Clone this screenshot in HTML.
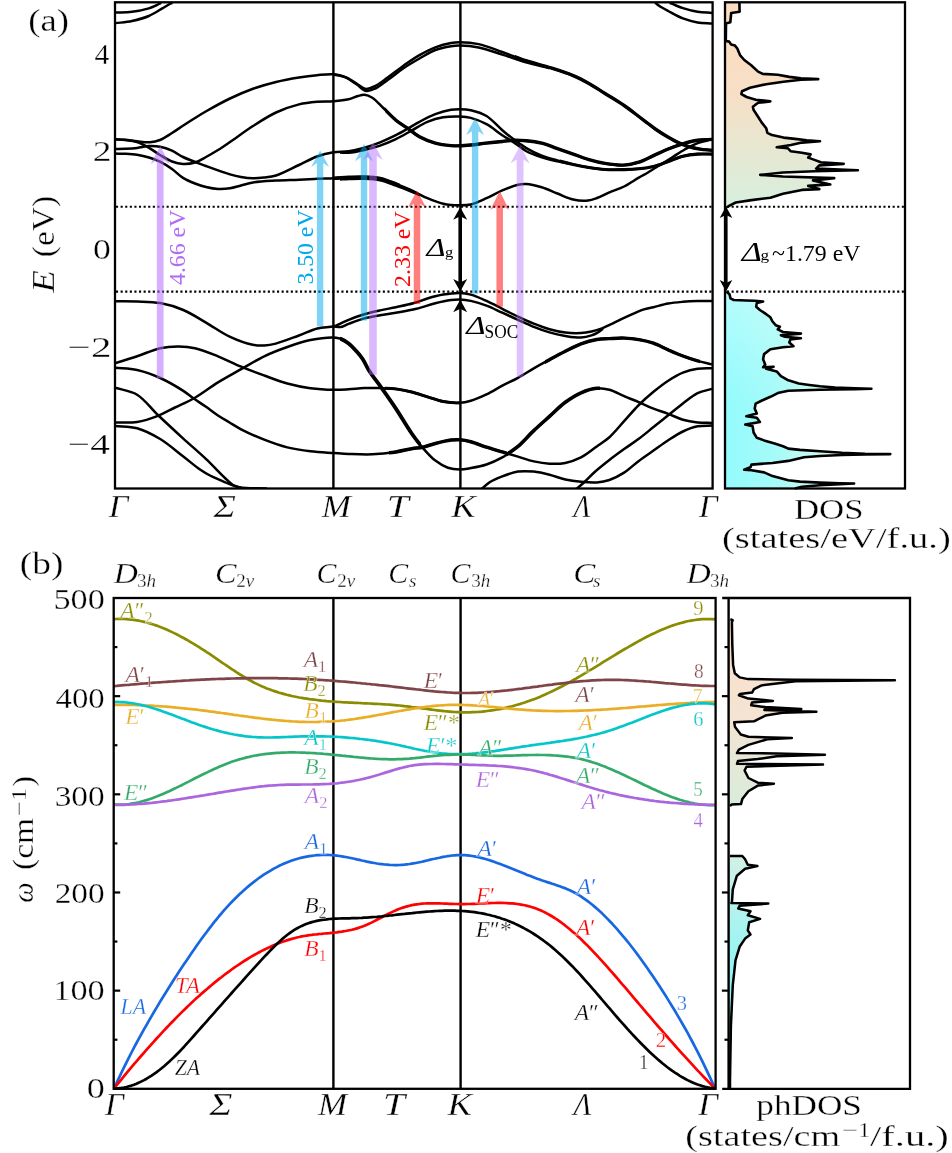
<!DOCTYPE html><html><head><meta charset="utf-8"><style>html,body{margin:0;padding:0;background:#fff;overflow:hidden}svg{display:block;will-change:transform}text{font-family:"Liberation Serif",serif;stroke:#fff;stroke-width:0.35px;stroke-opacity:0.9}.tn text{stroke:none}</style></head><body>
<svg width="952" height="1153" viewBox="0 0 952 1153" font-family="Liberation Serif">
<defs>
<linearGradient id="gc" x1="0" y1="0" x2="0" y2="1" gradientUnits="objectBoundingBox"><stop offset="0" stop-color="#fddcbf"/><stop offset="0.45" stop-color="#f7dfc6"/><stop offset="1" stop-color="#d6f0de"/></linearGradient>
<linearGradient id="gvh" x1="726" y1="0" x2="840" y2="0" gradientUnits="userSpaceOnUse"><stop offset="0" stop-color="#94fbfd"/><stop offset="0.45" stop-color="#a6fbf8"/><stop offset="1" stop-color="#e2f8ec"/></linearGradient>
<linearGradient id="gvv" x1="0" y1="292" x2="0" y2="400" gradientUnits="userSpaceOnUse"><stop offset="0" stop-color="#fff" stop-opacity="0.3"/><stop offset="1" stop-color="#fff" stop-opacity="0"/></linearGradient>
<linearGradient id="gpu" x1="0" y1="640" x2="0" y2="806" gradientUnits="userSpaceOnUse"><stop offset="0" stop-color="#fbe0cc"/><stop offset="0.5" stop-color="#f3e4d2"/><stop offset="1" stop-color="#d8ecdc"/></linearGradient>
<linearGradient id="gpl" x1="0" y1="856" x2="0" y2="1000" gradientUnits="userSpaceOnUse"><stop offset="0" stop-color="#d2f0e6"/><stop offset="0.6" stop-color="#a0f4f2"/><stop offset="1" stop-color="#88f6f8"/></linearGradient>
<clipPath id="cpa"><rect x="115" y="2.3" width="597.5" height="486.2"/></clipPath>
</defs>
<rect width="952" height="1153" fill="#fff"/>
<line x1="116" y1="206.8" x2="712.6" y2="206.8" stroke="#000" stroke-width="2.1" stroke-dasharray="2.1 2.5"/>
<line x1="727" y1="206.8" x2="904" y2="206.8" stroke="#000" stroke-width="2.1" stroke-dasharray="2.1 2.5"/>
<line x1="116" y1="291.6" x2="712.6" y2="291.6" stroke="#000" stroke-width="2.1" stroke-dasharray="2.1 2.5"/>
<line x1="727" y1="291.6" x2="904" y2="291.6" stroke="#000" stroke-width="2.1" stroke-dasharray="2.1 2.5"/>
<g clip-path="url(#cpa)" fill="none" stroke="#000" stroke-width="2" stroke-linejoin="round">
<path d="M115 12.6 C120.67 12.33 126.38 12.5 132 11.8 C137.64 11.1 144.42 9.71 148.8 8.4 C151.75 7.52 153.84 6.51 156 5.5 C157.85 4.63 159.33 3.7 161 2.8" stroke-width="2.5"/>
<path d="M115 23.3 C120.67 22.53 126.4 22.21 132 21 C137.66 19.78 143.62 18.2 148.8 16 C153.67 13.93 158.77 10.45 162.3 8.4 C164.61 7.06 166.21 5.98 168 5 C169.54 4.15 170.93 3.53 172.4 2.8" stroke-width="2.5"/>
<path d="M669.7 2.8 C671.8 3.7 673.84 4.63 676 5.5 C678.24 6.4 680.14 7.24 682.9 8.1 C686.86 9.34 692.69 11 697.6 11.8 C702.39 12.58 707.2 12.53 712 12.9" stroke-width="2.5"/>
<path d="M655 2.8 C657 4.2 658.87 5.67 661 7 C663.26 8.41 665.36 9.5 668.2 11 C672.22 13.13 677.9 16.48 682.9 18.4 C687.71 20.24 692.68 21.55 697.6 22.4 C702.39 23.23 707.2 23.13 712 23.5" stroke-width="2.5"/>
<path d="M115 139.3 C118.33 139.47 121.52 139.5 125 139.8 C128.82 140.13 132.91 140.89 137 141.3 C141.24 141.73 145.97 142.6 150 142.3 C153.57 142.03 156.62 141.34 160 140 C163.93 138.44 168.09 135.43 172 133 C175.86 130.6 179.49 127.98 183.3 125.5 C187.16 122.98 191.09 120.43 195 118 C198.86 115.6 202.02 113.6 206.6 111 C213.01 107.36 222.15 102.24 230 98.5 C237.62 94.87 245.26 91.57 253 88.8 C260.59 86.09 268.29 83.89 276 82 C283.62 80.13 291.78 78.67 299 77.5 C305.35 76.47 311.12 75.74 317 75.2 C322.61 74.69 328.47 73.84 333.5 74.3 C337.85 74.7 341.69 75.68 345.5 77.2 C349.36 78.74 352.97 81.47 356.5 83.5 C359.78 85.39 362.77 88.67 366 89 C369.07 89.32 372.16 87.51 375.4 85.9 C379.43 83.9 383.59 80.37 388 77.2 C393 73.61 398.48 69.12 403.8 65.4 C408.99 61.77 414.16 58.15 419.5 55.1 C424.67 52.14 429.94 49.35 435.3 47.3 C440.45 45.33 446.46 43.71 451 42.9 C454.38 42.3 456.46 42.16 460 42.2 C465.09 42.26 472.11 42.7 478.6 44.1 C486.11 45.71 494.43 49.24 502.3 52 C510.2 54.77 517.99 58.1 525.9 60.7 C533.72 63.26 541.66 65.03 549.5 67.5 C557.42 69.99 566.2 72.66 573.2 75.6 C579.06 78.06 583.7 80.58 588.9 83.5 C594.3 86.53 599.41 90.01 605 93.5 C611.1 97.31 618.23 101.47 624.1 105.5 C629.4 109.14 634.48 113.24 638.8 116.5 C642.23 119.09 645.04 121.26 648 123.5 C650.76 125.58 653.02 127.45 656 129.5 C659.53 131.93 664.03 134.74 667.9 137 C671.45 139.07 674.85 141.02 678.3 142.6 C681.52 144.08 684.48 145.25 687.9 146.3 C691.64 147.45 695.87 148.45 699.9 149.1 C703.9 149.75 707.97 149.83 712 150.2" stroke-width="2.5"/>
<path d="M334 74.5 C337.83 75.47 341.83 75.83 345.5 77.4 C349.34 79.04 353 81.97 356.5 84.3 C359.81 86.51 362.7 90.41 366 91 C369.02 91.54 372.17 89.99 375.4 88.5 C379.45 86.63 383.59 82.97 388 79.8 C393 76.21 398.45 71.6 403.8 68 C408.96 64.53 414.22 61.52 419.5 58.5 C424.72 55.52 429.91 52.06 435.3 50 C440.42 48.04 446.46 46.89 451 46.2 C454.39 45.68 456.46 45.54 460 45.6 C465.09 45.69 472.09 46.2 478.6 47.5 C486.09 48.99 494.43 52.12 502.3 54.6 C510.19 57.09 517.99 60.12 525.9 62.4 C533.72 64.65 541.63 66.27 549.5 68.2" stroke-width="2.5"/>
<path d="M115 139.3 C118.33 139.53 121.53 139.59 125 140 C128.83 140.45 133.09 140.76 137 142 C141.1 143.3 145.15 145.62 149 147.8 C152.82 149.96 156.2 152.74 160 155 C163.87 157.31 167.98 159.99 172 161.5 C175.65 162.87 179.24 163.81 183 164 C186.9 164.19 191.18 163.66 195 162.5 C198.85 161.33 202.29 159.01 206 157 C209.95 154.86 214.04 152.47 218 150 C222.04 147.48 225.37 145.15 230 142 C236.45 137.61 245.24 130.97 253 126 C260.57 121.15 268.15 116.14 276 112.5 C283.5 109.02 291.72 106.19 299 104.4 C305.29 102.85 311.12 102.31 317 101.8 C322.61 101.31 328.13 101.74 333.5 101.3 C338.66 100.88 344.21 100.35 348.6 99.3 C352.15 98.45 355.14 96.77 358 96 C360.31 95.38 362.18 94.61 364.4 94.8 C366.92 95.01 369.62 96.05 372.3 97.7 C375.88 99.91 379.52 104.4 383.3 108 C387.37 111.88 391.55 116.63 395.9 120.2 C399.97 123.53 404.46 126.05 408.5 128.9 C412.3 131.58 415.35 134.52 419.5 136.8 C424.16 139.35 429.96 141.63 435.3 143.1 C440.46 144.52 446.48 145.19 451 145.6 C454.4 145.91 456.87 145.88 460 145.8 C463.44 145.71 466.87 145.38 470.8 145 C475.55 144.54 481.26 143.68 486.5 143.1 C491.76 142.52 497.51 142.03 502.3 141.5 C506.3 141.06 509.5 140.35 513.3 140.2 C517.35 140.04 521.48 140.28 525.9 140.7 C530.88 141.18 536.5 141.81 541.7 143.1 C547 144.42 552.16 146.77 557.4 148.6 C562.66 150.44 567.94 152.26 573.2 154.1 C578.44 155.93 583.59 158.05 588.9 159.6 C594.19 161.15 599.37 162.49 605 163.4 C611.06 164.38 618.17 165.41 624.1 165.1 C629.34 164.82 633.99 163.73 638.8 162.2 C643.79 160.61 648.6 157.8 653.5 155.6 C658.4 153.4 663.26 150.98 668.2 149 C673.06 147.05 677.96 145.26 682.9 143.8 C687.76 142.37 692.69 141.03 697.6 140.3 C702.39 139.58 707.2 139.7 712 139.4" stroke-width="2.5"/>
<path d="M115 149 C118.33 148.93 121.52 148.95 125 148.8 C128.82 148.63 133.01 148.46 137 148 C141.01 147.53 145.08 146.2 149 146 C152.74 145.81 156.3 145.99 160 146.7 C163.96 147.46 168.17 148.89 172 150.6 C175.84 152.32 178.57 154.86 183 157 C189.18 159.98 198.23 163.12 206 166 C213.89 168.92 223.5 172.5 230 174.4 C234.33 175.67 237.23 176.35 241 177 C244.89 177.67 249.08 178.23 253 178.3 C256.74 178.37 260.26 177.95 264 177.5 C267.92 177.03 271.46 176.89 276 175.5 C282.54 173.5 291.81 168.34 299 165 C305.38 162.04 311.03 158.65 317 156.5 C322.52 154.51 328.08 153.16 333.5 152.3 C338.61 151.49 343.54 152.02 348.6 151.3 C353.84 150.55 359.19 149.29 364.4 147.8 C369.69 146.29 374.9 144.37 380.1 142.3 C385.4 140.18 390.98 137.67 395.9 135.2 C400.39 132.95 404.45 130.5 408.5 128.2 C412.3 126.04 415.46 123.94 419.5 121.8 C424.25 119.28 429.95 116.22 435.3 114.2 C440.46 112.25 446.45 110.58 451 109.8 C454.38 109.22 456.87 109.16 460 109.2 C463.44 109.24 466.93 109.32 470.8 110.2 C475.61 111.29 481.53 113 486.5 116 C492.1 119.38 497.46 126.07 502.3 130.2 C506.25 133.57 509.45 136.22 513.3 139.1 C517.3 142.09 521.36 145.12 525.9 147.8 C530.78 150.68 536.35 153.58 541.7 155.7 C546.85 157.74 552.14 158.95 557.4 160.4 C562.64 161.85 567.93 163.21 573.2 164.4 C578.43 165.58 583.62 166.65 588.9 167.5 C594.22 168.35 599.39 169.14 605 169.5 C611.08 169.89 618.15 169.75 624.1 169.6 C629.32 169.47 633.91 169.3 638.8 168.8 C643.71 168.3 648.65 167.79 653.5 166.6 C658.46 165.38 663.3 163.22 668.2 161.5 C673.1 159.78 677.94 157.54 682.9 156.3 C687.74 155.09 692.71 154.46 697.6 154.1 C702.41 153.74 707.2 154.1 712 154.1" stroke-width="2.5"/>
<path d="M340 152.6 C342.87 152.67 345.32 153.05 348.6 152.8 C353.09 152.46 359.17 151.19 364.4 150 C369.67 148.8 374.91 147.39 380.1 145.6 C385.41 143.77 390.7 141.58 395.9 139.1 C401.24 136.56 406.45 133.38 411.7 130.5 C416.95 127.62 422.03 124.02 427.4 121.8 C432.54 119.68 437.8 118.19 443.2 117.3 C448.66 116.4 455.02 116.3 460 116.5 C464 116.66 466.93 116.89 470.8 117.9 C475.62 119.16 481.41 121.45 486.5 124.2 C491.93 127.13 497.29 131.89 502.3 135.2 C506.7 138.11 510.88 140.4 514.9 143.1 C518.73 145.67 521.75 148.72 525.9 151 C530.56 153.55 536.39 155.55 541.7 157.3 C546.89 159 552.44 160.24 557.4 161.4 C561.82 162.43 565.8 163.13 570 164" stroke-width="2.5"/>
<path d="M115 153.6 C118.33 153.67 121.52 153.62 125 153.8 C128.82 154 133.02 154.19 137 154.8 C141.02 155.42 145.13 156.33 149 157.5 C152.79 158.64 156.34 159.9 160 161.7 C164 163.66 168.17 166.31 172 169 C175.84 171.7 179.1 175.46 183 177.9 C186.78 180.26 191.04 181.95 195 183.5 C198.7 184.94 202.22 186.09 206 187 C209.88 187.94 213.99 188.79 218 189 C221.99 189.21 226.11 188.9 230 188.3 C233.78 187.71 237.25 186.45 241 185.5 C244.91 184.51 248.32 183.27 253 182.5 C259.39 181.44 268.33 181.07 276 180.6 C283.66 180.13 291.8 180.02 299 179.7 C305.37 179.42 311.13 179.04 317 178.8 C322.62 178.57 328.12 178.54 333.5 178.3 C338.65 178.07 343.51 177.62 348.6 177.4 C353.81 177.18 359.15 176.82 364.4 177 C369.65 177.18 374.93 177.37 380.1 178.5 C385.43 179.66 390.66 182.03 395.9 184 C401.19 185.99 406.49 188.05 411.7 190.4 C416.99 192.78 422.09 195.97 427.4 198.2 C432.59 200.38 437.78 202.52 443.2 203.7 C448.64 204.89 455.01 205.25 460 205.3 C463.99 205.34 466.94 205.39 470.8 204.5 C475.63 203.38 481.3 200.52 486.5 198.2 C491.8 195.83 496.98 192.65 502.3 190.4 C507.48 188.21 513.61 185.79 518 184.8 C521.03 184.12 522.83 183.85 525.9 184 C530.28 184.22 536.51 185.65 541.7 187.2 C547.02 188.79 552.15 191.45 557.4 193.5 C562.65 195.55 567.93 198.35 573.2 199.5 C578.13 200.58 583.71 200.94 588 200.5 C591.4 200.15 593.81 199.16 597 198 C600.85 196.6 605.07 194.25 609.4 192.4 C614.07 190.41 619.3 188.9 624.1 186.5 C629.1 184 634.45 180.12 638.8 177.6 C642.2 175.63 644.76 174.41 648 172.5 C651.76 170.28 656 167.5 660 165 C664 162.5 667.95 160.04 672 157.5 C676.18 154.88 680.55 151.86 684.7 149.5 C688.5 147.34 691.74 145.41 695.9 143.8 C700.7 141.95 706.63 140.87 712 139.4" stroke-width="2.5"/>
<path d="M340 179.5 C342.87 179.33 345.3 179.13 348.6 179 C353.07 178.83 359.15 178.5 364.4 178.7 C369.65 178.9 374.92 179.08 380.1 180.2 C385.43 181.35 390.65 183.68 395.9 185.6 C401.19 187.54 407.28 190 411.7 191.8 C414.92 193.11 417.23 194.13 420 195.3" stroke-width="2.5"/>
<path d="M115 301.3 C122.37 301.37 129.66 301.21 137.1 301.5 C144.72 301.8 152.58 301.71 160.2 303.1 C167.98 304.51 175.77 306.83 183.3 310 C191.18 313.32 198.73 318.39 206.4 322.8 C214.16 327.26 221.69 332.9 229.6 336.6 C237.14 340.12 246.25 343.4 252.7 344.7 C257.12 345.59 260.37 345.58 264.2 345.4 C268.07 345.22 271.33 344.72 275.8 343.6 C282.25 341.98 291.64 338.15 298.9 335.5 C305.42 333.12 311.31 330.03 317.4 328.5 C323 327.09 329.75 327.49 334 326.3 C336.83 325.5 338.46 324.34 340.8 323.3 C343.31 322.18 345.51 321.03 348.6 319.8 C352.92 318.08 359.11 315.88 364.4 314.3 C369.61 312.75 374.85 311.58 380.1 310.4 C385.35 309.22 390.52 308.35 395.9 307.2 C401.54 305.99 407.76 304.83 413.2 303.3 C418.21 301.89 422.51 299.93 427.4 298.5 C432.5 297.01 437.82 295.52 443.2 294.6 C448.68 293.67 455.02 292.87 460 293 C464 293.1 466.93 293.55 470.8 294.6 C475.62 295.9 481.31 298.56 486.5 300.9 C491.81 303.29 497.04 306.16 502.3 308.8 C507.54 311.43 512.73 314.21 518 316.7 C523.23 319.17 528.5 321.58 533.8 323.7 C539 325.78 544.21 327.81 549.5 329.3 C554.71 330.77 560.01 331.97 565.3 332.6 C570.51 333.22 576.3 333.38 581 333.1 C584.86 332.87 588.03 332.29 591.5 331.5 C595.03 330.7 598.54 329.6 602 328.3 C605.54 326.97 609.02 325.24 612.5 323.6 C616.02 321.94 619.49 320.07 623 318.4 C626.49 316.74 629.98 315.11 633.5 313.6 C636.98 312.11 640.55 310.48 644 309.4 C647.21 308.39 649.99 308.05 653.5 307.2 C657.87 306.14 663.27 304.4 668.2 303.5 C673.07 302.61 677.99 302.22 682.9 301.8 C687.79 301.38 692.72 301.15 697.6 301 C702.42 300.85 707.2 300.93 712 300.9" stroke-width="2.5"/>
<path d="M334 326.6 C336.27 326.73 338.5 327.37 340.8 327 C343.36 326.59 345.53 325.04 348.6 323.9 C352.93 322.29 359.09 319.86 364.4 318.4 C369.59 316.97 374.85 316.15 380.1 315.2 C385.35 314.25 390.3 313.68 395.9 312.7 C402.3 311.59 409.74 310.4 416.4 308.8 C422.87 307.25 429.26 304.79 435.3 303.3 C440.75 301.95 446.47 300.71 451 300.1 C454.4 299.64 456.87 299.4 460 299.5 C463.44 299.61 466.9 300.07 470.8 300.9 C475.58 301.92 481.32 303.67 486.5 305.6 C491.82 307.58 497.04 310.33 502.3 312.7 C507.54 315.06 512.76 317.44 518 319.8 C523.26 322.17 528.5 324.78 533.8 326.9 C539 328.97 544.21 330.89 549.5 332.4 C554.71 333.89 560.02 335.03 565.3 335.9 C570.52 336.76 576.31 337.83 581 337.6 C584.87 337.41 588.47 336.42 591.5 335.4 C593.98 334.56 596.02 333.46 598 332.3 C599.82 331.24 601.33 329.97 603 328.8" stroke-width="2.5"/>
<path d="M115 363.2 C122.37 360.9 129.67 358.76 137.1 356.3 C144.74 353.77 152.83 349.78 160.2 348.2 C166.62 346.82 172.74 346.56 178.7 346.6 C184.28 346.63 189.11 346.92 194.9 348.2 C202.01 349.77 210.36 353.25 218 356.3 C225.77 359.4 233.35 363.48 241.1 366.7 C248.75 369.88 256.48 372.69 264.2 375.5 C271.88 378.29 279.53 381.37 287.3 383.5 C294.93 385.59 302.62 387.15 310.4 388.2 C318.19 389.25 327.07 389.68 334 389.8 C339.45 389.89 343.64 389.57 348.6 389.3 C353.77 389.02 359.01 388.3 364.4 388.1 C370.03 387.89 376.22 387.95 381.7 388.1 C386.67 388.24 391.06 388.29 395.9 388.9 C401.05 389.55 406.48 390.69 411.7 392 C416.98 393.32 422.16 395.22 427.4 396.8 C432.66 398.38 437.8 400.5 443.2 401.5 C448.66 402.51 455.03 403.09 460 402.8 C464.01 402.57 466.92 401.84 470.8 400.7 C475.61 399.28 481.33 396.85 486.5 394.4 C491.84 391.87 497.02 388.48 502.3 385.7 C507.52 382.95 512.81 380.65 518 377.8 C523.31 374.89 528.52 371.43 533.8 368.4 C539.02 365.4 544.25 362.55 549.5 359.7 C554.75 356.85 560.01 353.97 565.3 351.3 C570.51 348.67 575.67 345.78 581 343.8 C586.17 341.88 591.79 340.35 596.8 339.5 C601.2 338.75 605.04 338.83 609.4 338.6 C614.11 338.35 619.21 337.93 624.1 338.1 C629.01 338.27 633.93 338.76 638.8 339.6 C643.73 340.45 648.68 341.53 653.5 343.2 C658.48 344.93 663.28 347.76 668.2 349.9 C673.08 352.02 677.97 354.16 682.9 356 C687.77 357.82 692.7 359.49 697.6 360.9 C702.4 362.28 707.2 363.23 712 364.4" stroke-width="2.5"/>
<path d="M115 422.4 C122.37 422.23 129.92 423.01 137.1 421.9 C144.21 420.8 151.4 418.31 157.9 415.8 C163.98 413.45 169.17 410.32 175 407.5 C181.09 404.56 187.19 402.2 193.7 398.5 C201.41 394.12 209.92 387.38 218 382.4 C225.72 377.64 233.39 373.56 241.1 369.2 C248.79 364.86 256.38 360.04 264.2 356.3 C271.79 352.67 279.54 349.72 287.3 347 C294.94 344.33 302.59 341.67 310.4 340.1 C318.15 338.55 328.52 337.37 334 337.6 C336.96 337.72 338.53 338.05 340.8 338.9 C343.39 339.86 346.11 341.49 348.6 343.4 C351.37 345.53 354.08 348.6 356.5 351.3 C358.8 353.87 360.82 356.22 362.8 359.2 C365.06 362.61 366.47 366.64 369.1 370.8 C372.45 376.09 377.41 382.06 381.7 388.1 C386.33 394.62 391.11 401.38 395.9 408.6 C401.1 416.45 406.76 426.44 411.7 433.5 C415.57 439.02 418.76 443.28 422.7 447.8 C426.63 452.31 430.85 457.19 435.3 460.6 C439.3 463.66 443.6 466.23 447.9 467.7 C451.85 469.06 456.08 469.46 460 469.5 C463.7 469.53 466.88 468.8 470.8 468.1 C475.56 467.25 481.34 466.23 486.5 464.5 C491.85 462.7 498.29 459.62 502.3 457.4 C504.95 455.93 506.31 454.79 508.6 453.2 C511.44 451.23 514.59 449.31 518 446.4 C522.73 442.37 528.48 435.66 533.8 430.6 C538.98 425.67 544.25 421.12 549.5 416.4 C554.75 411.68 559.85 406.33 565.3 402.3 C570.37 398.55 575.6 395.15 581 392.8 C586.11 390.57 591.79 388.7 596.8 388.3 C601.2 387.95 605.13 388.64 609.4 389.8 C614.21 391.1 619.19 394.14 624.1 396.2 C628.99 398.24 633.92 400.03 638.8 402.1 C643.72 404.19 648.56 406.74 653.5 408.7 C658.36 410.63 663.32 411.98 668.2 413.8 C673.12 415.64 677.93 418.26 682.9 419.7 C687.73 421.1 692.71 421.87 697.6 422.4 C702.41 422.92 707.2 422.73 712 422.9" stroke-width="2.5"/>
<path d="M115 367.7 C122.37 368.47 129.75 368.37 137.1 370 C144.81 371.71 152.65 374.61 160.2 378 C168.06 381.52 177.21 386.99 183.3 390.9 C187.55 393.63 190.04 395.92 193.7 398.5 C197.7 401.31 202.28 404.22 206.4 407.1 C210.38 409.89 214.08 412.9 218 415.5 C221.81 418.03 225.74 420.19 229.6 422.5 C233.44 424.79 236.53 426.93 241.1 429.3 C247.4 432.57 256.42 436.66 264.2 439.7 C271.83 442.68 279.52 445.46 287.3 447.4 C294.93 449.3 302.64 450.37 310.4 451.3 C318.2 452.24 327.07 452.54 334 453 C339.45 453.36 343.14 453.69 348.6 453.9 C355.55 454.17 364.42 454.63 372.3 454.3 C380.18 453.97 388.84 452.97 395.9 451.9 C401.72 451.02 406.9 449.51 411.7 448.7 C415.69 448.03 418.94 448 422.7 447.2 C426.79 446.33 430.85 444.63 435.3 443.5 C440.22 442.25 446.47 440.66 451 440.1 C454.39 439.68 456.88 439.58 460 439.8 C463.45 440.04 466.91 440.68 470.8 441.7 C475.59 442.95 481.24 445.5 486.5 447.2 C491.74 448.9 497.04 450.33 502.3 451.9 C507.54 453.46 512.76 455.02 518 456.6 C523.26 458.19 528.5 460.21 533.8 461.4 C539 462.56 544.25 463.45 549.5 463.7 C554.75 463.95 560.11 463.92 565.3 462.9 C570.62 461.86 575.93 459.99 581 457.4 C586.45 454.61 591.85 449.93 596.8 446.4 C601.26 443.22 605.22 440.93 609.4 437.2 C614.33 432.79 619.21 426.56 624.1 421.2 C629.01 415.82 633.77 410.01 638.8 405 C643.58 400.24 648.51 395.91 653.5 391.8 C658.32 387.83 663.18 383.95 668.2 380.7 C672.99 377.59 677.87 374.62 682.9 372.6 C687.69 370.68 692.68 369.43 697.6 368.7 C702.38 367.99 707.2 368.37 712 368.2" stroke-width="2.5"/>
<path d="M115 387.7 C122.37 390.03 130.29 390.62 137.1 394.7 C144.73 399.27 150.58 408.03 157.9 415 C165.9 422.62 175.01 431.01 183.3 438.6 C191.15 445.78 199.2 452.57 206.4 459.4 C213.02 465.69 220.03 473.35 225 478 C228.16 480.96 230.27 483.39 233 485 C235.29 486.34 236.85 486.89 240 487.5 C246.01 488.66 258 488.17 267 488.5" stroke-width="2.5"/>
<path d="M115 425.9 C122.37 426.67 129.82 426.18 137.1 428.2 C144.9 430.36 152.73 434.49 160.2 439 C168.16 443.8 176.24 451.08 183.3 456.5 C189.33 461.13 195.05 466.11 200 469.5 C203.67 472.02 206.71 473.77 210 475.5 C213.03 477.09 215.96 478.26 219 479.6 C222.09 480.96 225.53 482.47 228.4 483.6 C230.78 484.54 232.84 485.32 235 486 C237.03 486.64 239 487.07 241 487.6" stroke-width="2.5"/>
<path d="M481 489.5 C484 487 486.61 484.15 490 482 C493.65 479.69 497.89 477.97 502.3 476.3 C507.15 474.46 512.7 472.38 518 471.6 C523.2 470.84 528.57 471.09 533.8 471.6 C539.07 472.12 544.29 473.4 549.5 474.7 C554.79 476.02 560 478.31 565.3 479.5 C570.5 480.66 575.75 481.32 581 481.8 C586.25 482.28 591.85 482.77 596.8 482.4 C601.26 482.06 605.14 481.45 609.4 480 C614.22 478.36 619.35 475.64 624.1 472.6 C629.17 469.35 633.84 464.6 638.8 460.9 C643.65 457.28 648.6 454.03 653.5 450.6 C658.4 447.17 663.24 443.52 668.2 440.3 C673.04 437.16 677.88 433.86 682.9 431.5 C687.69 429.25 692.65 427.27 697.6 426.3 C702.36 425.36 707.2 425.83 712 425.6" stroke-width="2.5"/>
<path d="M576 489.5 C579 486.83 581.98 484.32 585 481.5 C588.21 478.51 591.05 475.27 594.7 472 C599.02 468.14 604.45 463.85 609.4 460 C614.26 456.22 619.18 452.65 624.1 449.1 C628.98 445.58 633.95 442.42 638.8 438.8 C643.76 435.1 648.6 431.01 653.5 427.1 C658.4 423.18 663.3 419.23 668.2 415.3 C673.1 411.37 677.94 407.22 682.9 403.5 C687.74 399.87 692.52 395.66 697.6 393.2 C702.25 390.95 707.2 390.33 712 388.9" stroke-width="2.5"/>
</g>
<clipPath id="tk1"><rect x="515" y="0" width="197" height="490"/></clipPath>
<path d="M115 139.3 C118.33 139.47 121.52 139.5 125 139.8 C128.82 140.13 132.91 140.89 137 141.3 C141.24 141.73 145.97 142.6 150 142.3 C153.57 142.03 156.62 141.34 160 140 C163.93 138.44 168.09 135.43 172 133 C175.86 130.6 179.49 127.98 183.3 125.5 C187.16 122.98 191.09 120.43 195 118 C198.86 115.6 202.02 113.6 206.6 111 C213.01 107.36 222.15 102.24 230 98.5 C237.62 94.87 245.26 91.57 253 88.8 C260.59 86.09 268.29 83.89 276 82 C283.62 80.13 291.78 78.67 299 77.5 C305.35 76.47 311.12 75.74 317 75.2 C322.61 74.69 328.47 73.84 333.5 74.3 C337.85 74.7 341.69 75.68 345.5 77.2 C349.36 78.74 352.97 81.47 356.5 83.5 C359.78 85.39 362.77 88.67 366 89 C369.07 89.32 372.16 87.51 375.4 85.9 C379.43 83.9 383.59 80.37 388 77.2 C393 73.61 398.48 69.12 403.8 65.4 C408.99 61.77 414.16 58.15 419.5 55.1 C424.67 52.14 429.94 49.35 435.3 47.3 C440.45 45.33 446.46 43.71 451 42.9 C454.38 42.3 456.46 42.16 460 42.2 C465.09 42.26 472.11 42.7 478.6 44.1 C486.11 45.71 494.43 49.24 502.3 52 C510.2 54.77 517.99 58.1 525.9 60.7 C533.72 63.26 541.66 65.03 549.5 67.5 C557.42 69.99 566.2 72.66 573.2 75.6 C579.06 78.06 583.7 80.58 588.9 83.5 C594.3 86.53 599.41 90.01 605 93.5 C611.1 97.31 618.23 101.47 624.1 105.5 C629.4 109.14 634.48 113.24 638.8 116.5 C642.23 119.09 645.04 121.26 648 123.5 C650.76 125.58 653.02 127.45 656 129.5 C659.53 131.93 664.03 134.74 667.9 137 C671.45 139.07 674.85 141.02 678.3 142.6 C681.52 144.08 684.48 145.25 687.9 146.3 C691.64 147.45 695.87 148.45 699.9 149.1 C703.9 149.75 707.97 149.83 712 150.2" fill="none" stroke="#000" stroke-width="3.4" clip-path="url(#tk1)"/>
<clipPath id="tk2"><rect x="385" y="0" width="327" height="490"/></clipPath>
<path d="M115 139.3 C118.33 139.53 121.53 139.59 125 140 C128.83 140.45 133.09 140.76 137 142 C141.1 143.3 145.15 145.62 149 147.8 C152.82 149.96 156.2 152.74 160 155 C163.87 157.31 167.98 159.99 172 161.5 C175.65 162.87 179.24 163.81 183 164 C186.9 164.19 191.18 163.66 195 162.5 C198.85 161.33 202.29 159.01 206 157 C209.95 154.86 214.04 152.47 218 150 C222.04 147.48 225.37 145.15 230 142 C236.45 137.61 245.24 130.97 253 126 C260.57 121.15 268.15 116.14 276 112.5 C283.5 109.02 291.72 106.19 299 104.4 C305.29 102.85 311.12 102.31 317 101.8 C322.61 101.31 328.13 101.74 333.5 101.3 C338.66 100.88 344.21 100.35 348.6 99.3 C352.15 98.45 355.14 96.77 358 96 C360.31 95.38 362.18 94.61 364.4 94.8 C366.92 95.01 369.62 96.05 372.3 97.7 C375.88 99.91 379.52 104.4 383.3 108 C387.37 111.88 391.55 116.63 395.9 120.2 C399.97 123.53 404.46 126.05 408.5 128.9 C412.3 131.58 415.35 134.52 419.5 136.8 C424.16 139.35 429.96 141.63 435.3 143.1 C440.46 144.52 446.48 145.19 451 145.6 C454.4 145.91 456.87 145.88 460 145.8 C463.44 145.71 466.87 145.38 470.8 145 C475.55 144.54 481.26 143.68 486.5 143.1 C491.76 142.52 497.51 142.03 502.3 141.5 C506.3 141.06 509.5 140.35 513.3 140.2 C517.35 140.04 521.48 140.28 525.9 140.7 C530.88 141.18 536.5 141.81 541.7 143.1 C547 144.42 552.16 146.77 557.4 148.6 C562.66 150.44 567.94 152.26 573.2 154.1 C578.44 155.93 583.59 158.05 588.9 159.6 C594.19 161.15 599.37 162.49 605 163.4 C611.06 164.38 618.17 165.41 624.1 165.1 C629.34 164.82 633.99 163.73 638.8 162.2 C643.79 160.61 648.6 157.8 653.5 155.6 C658.4 153.4 663.26 150.98 668.2 149 C673.06 147.05 677.96 145.26 682.9 143.8 C687.76 142.37 692.69 141.03 697.6 140.3 C702.39 139.58 707.2 139.7 712 139.4" fill="none" stroke="#000" stroke-width="3.4" clip-path="url(#tk2)"/>
<clipPath id="tk3"><rect x="334" y="0" width="66" height="490"/></clipPath>
<path d="M115 153.6 C118.33 153.67 121.52 153.62 125 153.8 C128.82 154 133.02 154.19 137 154.8 C141.02 155.42 145.13 156.33 149 157.5 C152.79 158.64 156.34 159.9 160 161.7 C164 163.66 168.17 166.31 172 169 C175.84 171.7 179.1 175.46 183 177.9 C186.78 180.26 191.04 181.95 195 183.5 C198.7 184.94 202.22 186.09 206 187 C209.88 187.94 213.99 188.79 218 189 C221.99 189.21 226.11 188.9 230 188.3 C233.78 187.71 237.25 186.45 241 185.5 C244.91 184.51 248.32 183.27 253 182.5 C259.39 181.44 268.33 181.07 276 180.6 C283.66 180.13 291.8 180.02 299 179.7 C305.37 179.42 311.13 179.04 317 178.8 C322.62 178.57 328.12 178.54 333.5 178.3 C338.65 178.07 343.51 177.62 348.6 177.4 C353.81 177.18 359.15 176.82 364.4 177 C369.65 177.18 374.93 177.37 380.1 178.5 C385.43 179.66 390.66 182.03 395.9 184 C401.19 185.99 406.49 188.05 411.7 190.4 C416.99 192.78 422.09 195.97 427.4 198.2 C432.59 200.38 437.78 202.52 443.2 203.7 C448.64 204.89 455.01 205.25 460 205.3 C463.99 205.34 466.94 205.39 470.8 204.5 C475.63 203.38 481.3 200.52 486.5 198.2 C491.8 195.83 496.98 192.65 502.3 190.4 C507.48 188.21 513.61 185.79 518 184.8 C521.03 184.12 522.83 183.85 525.9 184 C530.28 184.22 536.51 185.65 541.7 187.2 C547.02 188.79 552.15 191.45 557.4 193.5 C562.65 195.55 567.93 198.35 573.2 199.5 C578.13 200.58 583.71 200.94 588 200.5 C591.4 200.15 593.81 199.16 597 198 C600.85 196.6 605.07 194.25 609.4 192.4 C614.07 190.41 619.3 188.9 624.1 186.5 C629.1 184 634.45 180.12 638.8 177.6 C642.2 175.63 644.76 174.41 648 172.5 C651.76 170.28 656 167.5 660 165 C664 162.5 667.95 160.04 672 157.5 C676.18 154.88 680.55 151.86 684.7 149.5 C688.5 147.34 691.74 145.41 695.9 143.8 C700.7 141.95 706.63 140.87 712 139.4" fill="none" stroke="#000" stroke-width="3.6" clip-path="url(#tk3)"/>
<clipPath id="tk4"><rect x="340" y="0" width="81" height="490"/></clipPath>
<path d="M115 422.4 C122.37 422.23 129.92 423.01 137.1 421.9 C144.21 420.8 151.4 418.31 157.9 415.8 C163.98 413.45 169.17 410.32 175 407.5 C181.09 404.56 187.19 402.2 193.7 398.5 C201.41 394.12 209.92 387.38 218 382.4 C225.72 377.64 233.39 373.56 241.1 369.2 C248.79 364.86 256.38 360.04 264.2 356.3 C271.79 352.67 279.54 349.72 287.3 347 C294.94 344.33 302.59 341.67 310.4 340.1 C318.15 338.55 328.52 337.37 334 337.6 C336.96 337.72 338.53 338.05 340.8 338.9 C343.39 339.86 346.11 341.49 348.6 343.4 C351.37 345.53 354.08 348.6 356.5 351.3 C358.8 353.87 360.82 356.22 362.8 359.2 C365.06 362.61 366.47 366.64 369.1 370.8 C372.45 376.09 377.41 382.06 381.7 388.1 C386.33 394.62 391.11 401.38 395.9 408.6 C401.1 416.45 406.76 426.44 411.7 433.5 C415.57 439.02 418.76 443.28 422.7 447.8 C426.63 452.31 430.85 457.19 435.3 460.6 C439.3 463.66 443.6 466.23 447.9 467.7 C451.85 469.06 456.08 469.46 460 469.5 C463.7 469.53 466.88 468.8 470.8 468.1 C475.56 467.25 481.34 466.23 486.5 464.5 C491.85 462.7 498.29 459.62 502.3 457.4 C504.95 455.93 506.31 454.79 508.6 453.2 C511.44 451.23 514.59 449.31 518 446.4 C522.73 442.37 528.48 435.66 533.8 430.6 C538.98 425.67 544.25 421.12 549.5 416.4 C554.75 411.68 559.85 406.33 565.3 402.3 C570.37 398.55 575.6 395.15 581 392.8 C586.11 390.57 591.79 388.7 596.8 388.3 C601.2 387.95 605.13 388.64 609.4 389.8 C614.21 391.1 619.19 394.14 624.1 396.2 C628.99 398.24 633.92 400.03 638.8 402.1 C643.72 404.19 648.56 406.74 653.5 408.7 C658.36 410.63 663.32 411.98 668.2 413.8 C673.12 415.64 677.93 418.26 682.9 419.7 C687.73 421.1 692.71 421.87 697.6 422.4 C702.41 422.92 707.2 422.73 712 422.9" fill="none" stroke="#000" stroke-width="3.8" clip-path="url(#tk4)"/>
<clipPath id="tk5"><rect x="507" y="0" width="93" height="490"/></clipPath>
<path d="M115 422.4 C122.37 422.23 129.92 423.01 137.1 421.9 C144.21 420.8 151.4 418.31 157.9 415.8 C163.98 413.45 169.17 410.32 175 407.5 C181.09 404.56 187.19 402.2 193.7 398.5 C201.41 394.12 209.92 387.38 218 382.4 C225.72 377.64 233.39 373.56 241.1 369.2 C248.79 364.86 256.38 360.04 264.2 356.3 C271.79 352.67 279.54 349.72 287.3 347 C294.94 344.33 302.59 341.67 310.4 340.1 C318.15 338.55 328.52 337.37 334 337.6 C336.96 337.72 338.53 338.05 340.8 338.9 C343.39 339.86 346.11 341.49 348.6 343.4 C351.37 345.53 354.08 348.6 356.5 351.3 C358.8 353.87 360.82 356.22 362.8 359.2 C365.06 362.61 366.47 366.64 369.1 370.8 C372.45 376.09 377.41 382.06 381.7 388.1 C386.33 394.62 391.11 401.38 395.9 408.6 C401.1 416.45 406.76 426.44 411.7 433.5 C415.57 439.02 418.76 443.28 422.7 447.8 C426.63 452.31 430.85 457.19 435.3 460.6 C439.3 463.66 443.6 466.23 447.9 467.7 C451.85 469.06 456.08 469.46 460 469.5 C463.7 469.53 466.88 468.8 470.8 468.1 C475.56 467.25 481.34 466.23 486.5 464.5 C491.85 462.7 498.29 459.62 502.3 457.4 C504.95 455.93 506.31 454.79 508.6 453.2 C511.44 451.23 514.59 449.31 518 446.4 C522.73 442.37 528.48 435.66 533.8 430.6 C538.98 425.67 544.25 421.12 549.5 416.4 C554.75 411.68 559.85 406.33 565.3 402.3 C570.37 398.55 575.6 395.15 581 392.8 C586.11 390.57 591.79 388.7 596.8 388.3 C601.2 387.95 605.13 388.64 609.4 389.8 C614.21 391.1 619.19 394.14 624.1 396.2 C628.99 398.24 633.92 400.03 638.8 402.1 C643.72 404.19 648.56 406.74 653.5 408.7 C658.36 410.63 663.32 411.98 668.2 413.8 C673.12 415.64 677.93 418.26 682.9 419.7 C687.73 421.1 692.71 421.87 697.6 422.4 C702.41 422.92 707.2 422.73 712 422.9" fill="none" stroke="#000" stroke-width="3.6" clip-path="url(#tk5)"/>
<clipPath id="tk6"><rect x="545" y="0" width="155" height="490"/></clipPath>
<path d="M115 363.2 C122.37 360.9 129.67 358.76 137.1 356.3 C144.74 353.77 152.83 349.78 160.2 348.2 C166.62 346.82 172.74 346.56 178.7 346.6 C184.28 346.63 189.11 346.92 194.9 348.2 C202.01 349.77 210.36 353.25 218 356.3 C225.77 359.4 233.35 363.48 241.1 366.7 C248.75 369.88 256.48 372.69 264.2 375.5 C271.88 378.29 279.53 381.37 287.3 383.5 C294.93 385.59 302.62 387.15 310.4 388.2 C318.19 389.25 327.07 389.68 334 389.8 C339.45 389.89 343.64 389.57 348.6 389.3 C353.77 389.02 359.01 388.3 364.4 388.1 C370.03 387.89 376.22 387.95 381.7 388.1 C386.67 388.24 391.06 388.29 395.9 388.9 C401.05 389.55 406.48 390.69 411.7 392 C416.98 393.32 422.16 395.22 427.4 396.8 C432.66 398.38 437.8 400.5 443.2 401.5 C448.66 402.51 455.03 403.09 460 402.8 C464.01 402.57 466.92 401.84 470.8 400.7 C475.61 399.28 481.33 396.85 486.5 394.4 C491.84 391.87 497.02 388.48 502.3 385.7 C507.52 382.95 512.81 380.65 518 377.8 C523.31 374.89 528.52 371.43 533.8 368.4 C539.02 365.4 544.25 362.55 549.5 359.7 C554.75 356.85 560.01 353.97 565.3 351.3 C570.51 348.67 575.67 345.78 581 343.8 C586.17 341.88 591.79 340.35 596.8 339.5 C601.2 338.75 605.04 338.83 609.4 338.6 C614.11 338.35 619.21 337.93 624.1 338.1 C629.01 338.27 633.93 338.76 638.8 339.6 C643.73 340.45 648.68 341.53 653.5 343.2 C658.48 344.93 663.28 347.76 668.2 349.9 C673.08 352.02 677.97 354.16 682.9 356 C687.77 357.82 692.7 359.49 697.6 360.9 C702.4 362.28 707.2 363.23 712 364.4" fill="none" stroke="#000" stroke-width="3.4" clip-path="url(#tk6)"/>
<clipPath id="tk7"><rect x="385" y="0" width="75" height="490"/></clipPath>
<path d="M115 363.2 C122.37 360.9 129.67 358.76 137.1 356.3 C144.74 353.77 152.83 349.78 160.2 348.2 C166.62 346.82 172.74 346.56 178.7 346.6 C184.28 346.63 189.11 346.92 194.9 348.2 C202.01 349.77 210.36 353.25 218 356.3 C225.77 359.4 233.35 363.48 241.1 366.7 C248.75 369.88 256.48 372.69 264.2 375.5 C271.88 378.29 279.53 381.37 287.3 383.5 C294.93 385.59 302.62 387.15 310.4 388.2 C318.19 389.25 327.07 389.68 334 389.8 C339.45 389.89 343.64 389.57 348.6 389.3 C353.77 389.02 359.01 388.3 364.4 388.1 C370.03 387.89 376.22 387.95 381.7 388.1 C386.67 388.24 391.06 388.29 395.9 388.9 C401.05 389.55 406.48 390.69 411.7 392 C416.98 393.32 422.16 395.22 427.4 396.8 C432.66 398.38 437.8 400.5 443.2 401.5 C448.66 402.51 455.03 403.09 460 402.8 C464.01 402.57 466.92 401.84 470.8 400.7 C475.61 399.28 481.33 396.85 486.5 394.4 C491.84 391.87 497.02 388.48 502.3 385.7 C507.52 382.95 512.81 380.65 518 377.8 C523.31 374.89 528.52 371.43 533.8 368.4 C539.02 365.4 544.25 362.55 549.5 359.7 C554.75 356.85 560.01 353.97 565.3 351.3 C570.51 348.67 575.67 345.78 581 343.8 C586.17 341.88 591.79 340.35 596.8 339.5 C601.2 338.75 605.04 338.83 609.4 338.6 C614.11 338.35 619.21 337.93 624.1 338.1 C629.01 338.27 633.93 338.76 638.8 339.6 C643.73 340.45 648.68 341.53 653.5 343.2 C658.48 344.93 663.28 347.76 668.2 349.9 C673.08 352.02 677.97 354.16 682.9 356 C687.77 357.82 692.7 359.49 697.6 360.9 C702.4 362.28 707.2 363.23 712 364.4" fill="none" stroke="#000" stroke-width="2.9" clip-path="url(#tk7)"/>
<clipPath id="tk8"><rect x="389" y="0" width="118" height="490"/></clipPath>
<path d="M115 367.7 C122.37 368.47 129.75 368.37 137.1 370 C144.81 371.71 152.65 374.61 160.2 378 C168.06 381.52 177.21 386.99 183.3 390.9 C187.55 393.63 190.04 395.92 193.7 398.5 C197.7 401.31 202.28 404.22 206.4 407.1 C210.38 409.89 214.08 412.9 218 415.5 C221.81 418.03 225.74 420.19 229.6 422.5 C233.44 424.79 236.53 426.93 241.1 429.3 C247.4 432.57 256.42 436.66 264.2 439.7 C271.83 442.68 279.52 445.46 287.3 447.4 C294.93 449.3 302.64 450.37 310.4 451.3 C318.2 452.24 327.07 452.54 334 453 C339.45 453.36 343.14 453.69 348.6 453.9 C355.55 454.17 364.42 454.63 372.3 454.3 C380.18 453.97 388.84 452.97 395.9 451.9 C401.72 451.02 406.9 449.51 411.7 448.7 C415.69 448.03 418.94 448 422.7 447.2 C426.79 446.33 430.85 444.63 435.3 443.5 C440.22 442.25 446.47 440.66 451 440.1 C454.39 439.68 456.88 439.58 460 439.8 C463.45 440.04 466.91 440.68 470.8 441.7 C475.59 442.95 481.24 445.5 486.5 447.2 C491.74 448.9 497.04 450.33 502.3 451.9 C507.54 453.46 512.76 455.02 518 456.6 C523.26 458.19 528.5 460.21 533.8 461.4 C539 462.56 544.25 463.45 549.5 463.7 C554.75 463.95 560.11 463.92 565.3 462.9 C570.62 461.86 575.93 459.99 581 457.4 C586.45 454.61 591.85 449.93 596.8 446.4 C601.26 443.22 605.22 440.93 609.4 437.2 C614.33 432.79 619.21 426.56 624.1 421.2 C629.01 415.82 633.77 410.01 638.8 405 C643.58 400.24 648.51 395.91 653.5 391.8 C658.32 387.83 663.18 383.95 668.2 380.7 C672.99 377.59 677.87 374.62 682.9 372.6 C687.69 370.68 692.68 369.43 697.6 368.7 C702.38 367.99 707.2 368.37 712 368.2" fill="none" stroke="#000" stroke-width="3.5" clip-path="url(#tk8)"/>
<clipPath id="tk9"><rect x="560" y="0" width="152" height="490"/></clipPath>
<path d="M115 149 C118.33 148.93 121.52 148.95 125 148.8 C128.82 148.63 133.01 148.46 137 148 C141.01 147.53 145.08 146.2 149 146 C152.74 145.81 156.3 145.99 160 146.7 C163.96 147.46 168.17 148.89 172 150.6 C175.84 152.32 178.57 154.86 183 157 C189.18 159.98 198.23 163.12 206 166 C213.89 168.92 223.5 172.5 230 174.4 C234.33 175.67 237.23 176.35 241 177 C244.89 177.67 249.08 178.23 253 178.3 C256.74 178.37 260.26 177.95 264 177.5 C267.92 177.03 271.46 176.89 276 175.5 C282.54 173.5 291.81 168.34 299 165 C305.38 162.04 311.03 158.65 317 156.5 C322.52 154.51 328.08 153.16 333.5 152.3 C338.61 151.49 343.54 152.02 348.6 151.3 C353.84 150.55 359.19 149.29 364.4 147.8 C369.69 146.29 374.9 144.37 380.1 142.3 C385.4 140.18 390.98 137.67 395.9 135.2 C400.39 132.95 404.45 130.5 408.5 128.2 C412.3 126.04 415.46 123.94 419.5 121.8 C424.25 119.28 429.95 116.22 435.3 114.2 C440.46 112.25 446.45 110.58 451 109.8 C454.38 109.22 456.87 109.16 460 109.2 C463.44 109.24 466.93 109.32 470.8 110.2 C475.61 111.29 481.53 113 486.5 116 C492.1 119.38 497.46 126.07 502.3 130.2 C506.25 133.57 509.45 136.22 513.3 139.1 C517.3 142.09 521.36 145.12 525.9 147.8 C530.78 150.68 536.35 153.58 541.7 155.7 C546.85 157.74 552.14 158.95 557.4 160.4 C562.64 161.85 567.93 163.21 573.2 164.4 C578.43 165.58 583.62 166.65 588.9 167.5 C594.22 168.35 599.39 169.14 605 169.5 C611.08 169.89 618.15 169.75 624.1 169.6 C629.32 169.47 633.91 169.3 638.8 168.8 C643.71 168.3 648.65 167.79 653.5 166.6 C658.46 165.38 663.3 163.22 668.2 161.5 C673.1 159.78 677.94 157.54 682.9 156.3 C687.74 155.09 692.71 154.46 697.6 154.1 C702.41 153.74 707.2 154.1 712 154.1" fill="none" stroke="#000" stroke-width="3.1" clip-path="url(#tk9)"/>
<line x1="333.4" y1="2.3" x2="333.4" y2="488.5" stroke="#000" stroke-width="2.4"/>
<line x1="460.4" y1="2.3" x2="460.4" y2="488.5" stroke="#000" stroke-width="2.4"/>
<path d="M160.2 146 L169.8 164 L163.6 160 L163.6 378.2 L156.8 378.2 L156.8 160 L150.6 164 Z" fill="#b66dff" fill-opacity="0.55"/>
<path d="M320.1 150.5 L329.1 167 L323.3 163 L323.3 326.2 L316.9 326.2 L316.9 163 L311.1 167 Z" fill="#00a8ea" fill-opacity="0.5"/>
<path d="M364 143.9 L373 161.2 L367.2 157.2 L367.2 320.6 L360.8 320.6 L360.8 157.2 L355 161.2 Z" fill="#00a8ea" fill-opacity="0.5"/>
<path d="M373 142.3 L382.8 160 L376.8 156 L376.8 374.7 L369.2 374.7 L369.2 156 L363.2 160 Z" fill="#b66dff" fill-opacity="0.48"/>
<path d="M417 190.5 L426.2 207.7 L420.25 203.7 L420.25 304 L413.75 304 L413.75 203.7 L407.8 207.7 Z" fill="#ff0000" fill-opacity="0.5"/>
<path d="M475.1 117.9 L484.1 135.2 L478.3 131.2 L478.3 293.8 L471.9 293.8 L471.9 131.2 L466.1 135.2 Z" fill="#00a8ea" fill-opacity="0.5"/>
<path d="M499.7 191.1 L509.1 210 L502.95 206 L502.95 306.4 L496.45 306.4 L496.45 206 L490.3 210 Z" fill="#ff0000" fill-opacity="0.5"/>
<path d="M520.1 145.4 L529.7 163.6 L523.5 159.6 L523.5 377.1 L516.7 377.1 L516.7 159.6 L510.5 163.6 Z" fill="#b66dff" fill-opacity="0.42"/>
<line x1="460.2" y1="215" x2="460.2" y2="284" stroke="#000" stroke-width="3.6"/>
<path d="M460.2 207.3 L467.2 219.8 L460.2 216.3 L453.2 219.8 Z" fill="#000"/>
<path d="M460.2 291.6 L467.2 279.1 L460.2 282.6 L453.2 279.1 Z" fill="#000"/>
<path d="M460.2 299.8 L467.2 312.3 L460.2 308.8 L453.2 312.3 Z" fill="#000"/>
<rect x="115" y="2.3" width="597.6" height="486.2" fill="none" stroke="#000" stroke-width="2.3"/>
<path d="M739.4 2.3 L739.6 11.8 L731.2 13 L730.3 22.3 L726 23.5 L725.8 41 L729.2 41.6 L731 44.4 L735 45.6 L737.3 48.5 L740.2 55.4 L744.3 60 L751.2 65.2 L758.1 71.6 L762.7 73.9 L777.8 74.8 L789.3 76.9 L800.9 78.4 L818.2 79.1 L800.9 79.8 L783.5 81.8 L766.2 84.2 L750 87.8 L742 91.2 L741.4 94.1 L746.6 97 L755.8 99.7 L770.3 101.4 L758.1 102.8 L752.9 106.8 L753.5 109.7 L755.8 113.2 L758.7 117.8 L761.6 122.4 L766.2 128.2 L767.4 132.8 L772 135.1 L783.5 137.6 L795.1 138.9 L806.7 140.2 L820 141.3 L801.9 142.6 L790.9 145 L776.7 147.3 L787.7 148.1 L790.9 151.3 L801.9 152.8 L810.6 154.4 L808.2 157.6 L814.5 159.9 L820.8 162.3 L843.7 163.9 L819.3 165.4 L816.1 168.6 L857.9 170.2 L814.5 171.3 L783 172.5 L760.2 174.9 L783 176.5 L834.2 178.1 L813 180.4 L830.3 184.4 L808.2 185.9 L819.3 189.1 L801.9 189.9 L783 193.8 L770.4 197.7 L751.5 200.1 L735.8 202.5 L729.5 205.6 L726.3 207.5 L725.5 207.1 L725.5 2.3 Z" fill="url(#gc)"/>
<path d="M726.3 291.6 L729.5 294.2 L730.5 298.4 L733.7 300 L746.3 300.5 L754.7 300.8 L763.1 301.6 L756.8 303.1 L756.2 306.8 L759.9 310 L766.2 314.2 L770.4 317.3 L772.5 321.5 L775.7 325.2 L779.9 326.8 L777.8 329.4 L783 332 L800.9 333.6 L780.9 335.2 L785.1 336.7 L800.9 338.3 L790.4 339.4 L789.3 342.5 L793.5 346.2 L783 347.2 L770.4 349.3 L764.1 354.1 L763.1 359.3 L765.2 364.6 L763.1 367.2 L773.6 366.7 L766.2 368.8 L776.7 371.4 L780.9 376.1 L788.3 380.3 L798.8 383.5 L809.3 385 L820 386.3 L835 387.6 L855 388.4 L871.4 388.8 L855 389.2 L835 389.5 L820 389.8 L804 390.2 L788.3 390.8 L777.8 393.1 L770.4 396.8 L762 400.5 L755.7 403.6 L754.7 408.4 L756.8 413.6 L746.3 416.2 L756.8 417.8 L759.9 422 L745.2 424.6 L752.6 426.2 L753.6 432.5 L756.8 437.8 L764.1 440.4 L774.6 443.6 L783 446.2 L788.3 448.6 L800 449.9 L820 451.2 L842 452.8 L865 453.7 L890.3 454.1 L865 454.5 L842 455 L820 456 L804 457.3 L788.3 460.9 L772.5 463 L751.5 464.6 L750.5 467.2 L744.2 469.8 L751.5 470.3 L764.1 472.4 L772.5 476.1 L788.3 480.3 L800 481.6 L820 482.6 L840 483.2 L854.1 483.5 L840 484.3 L820 485.3 L801.9 486.8 L795 488.5 L725.5 488.5 L725.5 293 Z" fill="url(#gvh)"/>
<path d="M726.3 291.6 L729.5 294.2 L730.5 298.4 L733.7 300 L746.3 300.5 L754.7 300.8 L763.1 301.6 L756.8 303.1 L756.2 306.8 L759.9 310 L766.2 314.2 L770.4 317.3 L772.5 321.5 L775.7 325.2 L779.9 326.8 L777.8 329.4 L783 332 L800.9 333.6 L780.9 335.2 L785.1 336.7 L800.9 338.3 L790.4 339.4 L789.3 342.5 L793.5 346.2 L783 347.2 L770.4 349.3 L764.1 354.1 L763.1 359.3 L765.2 364.6 L763.1 367.2 L773.6 366.7 L766.2 368.8 L776.7 371.4 L780.9 376.1 L788.3 380.3 L798.8 383.5 L809.3 385 L820 386.3 L835 387.6 L855 388.4 L871.4 388.8 L855 389.2 L835 389.5 L820 389.8 L804 390.2 L788.3 390.8 L777.8 393.1 L770.4 396.8 L762 400.5 L755.7 403.6 L754.7 408.4 L756.8 413.6 L746.3 416.2 L756.8 417.8 L759.9 422 L745.2 424.6 L752.6 426.2 L753.6 432.5 L756.8 437.8 L764.1 440.4 L774.6 443.6 L783 446.2 L788.3 448.6 L800 449.9 L820 451.2 L842 452.8 L865 453.7 L890.3 454.1 L865 454.5 L842 455 L820 456 L804 457.3 L788.3 460.9 L772.5 463 L751.5 464.6 L750.5 467.2 L744.2 469.8 L751.5 470.3 L764.1 472.4 L772.5 476.1 L788.3 480.3 L800 481.6 L820 482.6 L840 483.2 L854.1 483.5 L840 484.3 L820 485.3 L801.9 486.8 L795 488.5 L725.5 488.5 L725.5 293 Z" fill="url(#gvv)"/>
<path d="M739.4 2.3 L739.6 11.8 L731.2 13 L730.3 22.3 L726 23.5 L725.8 41 L729.2 41.6 L731 44.4 L735 45.6 L737.3 48.5 L740.2 55.4 L744.3 60 L751.2 65.2 L758.1 71.6 L762.7 73.9 L777.8 74.8 L789.3 76.9 L800.9 78.4 L818.2 79.1 L800.9 79.8 L783.5 81.8 L766.2 84.2 L750 87.8 L742 91.2 L741.4 94.1 L746.6 97 L755.8 99.7 L770.3 101.4 L758.1 102.8 L752.9 106.8 L753.5 109.7 L755.8 113.2 L758.7 117.8 L761.6 122.4 L766.2 128.2 L767.4 132.8 L772 135.1 L783.5 137.6 L795.1 138.9 L806.7 140.2 L820 141.3 L801.9 142.6 L790.9 145 L776.7 147.3 L787.7 148.1 L790.9 151.3 L801.9 152.8 L810.6 154.4 L808.2 157.6 L814.5 159.9 L820.8 162.3 L843.7 163.9 L819.3 165.4 L816.1 168.6 L857.9 170.2 L814.5 171.3 L783 172.5 L760.2 174.9 L783 176.5 L834.2 178.1 L813 180.4 L830.3 184.4 L808.2 185.9 L819.3 189.1 L801.9 189.9 L783 193.8 L770.4 197.7 L751.5 200.1 L735.8 202.5 L729.5 205.6 L726.3 207.5" fill="none" stroke="#000" stroke-width="2.6" stroke-linejoin="round"/>
<path d="M726.3 291.6 L729.5 294.2 L730.5 298.4 L733.7 300 L746.3 300.5 L754.7 300.8 L763.1 301.6 L756.8 303.1 L756.2 306.8 L759.9 310 L766.2 314.2 L770.4 317.3 L772.5 321.5 L775.7 325.2 L779.9 326.8 L777.8 329.4 L783 332 L800.9 333.6 L780.9 335.2 L785.1 336.7 L800.9 338.3 L790.4 339.4 L789.3 342.5 L793.5 346.2 L783 347.2 L770.4 349.3 L764.1 354.1 L763.1 359.3 L765.2 364.6 L763.1 367.2 L773.6 366.7 L766.2 368.8 L776.7 371.4 L780.9 376.1 L788.3 380.3 L798.8 383.5 L809.3 385 L820 386.3 L835 387.6 L855 388.4 L871.4 388.8 L855 389.2 L835 389.5 L820 389.8 L804 390.2 L788.3 390.8 L777.8 393.1 L770.4 396.8 L762 400.5 L755.7 403.6 L754.7 408.4 L756.8 413.6 L746.3 416.2 L756.8 417.8 L759.9 422 L745.2 424.6 L752.6 426.2 L753.6 432.5 L756.8 437.8 L764.1 440.4 L774.6 443.6 L783 446.2 L788.3 448.6 L800 449.9 L820 451.2 L842 452.8 L865 453.7 L890.3 454.1 L865 454.5 L842 455 L820 456 L804 457.3 L788.3 460.9 L772.5 463 L751.5 464.6 L750.5 467.2 L744.2 469.8 L751.5 470.3 L764.1 472.4 L772.5 476.1 L788.3 480.3 L800 481.6 L820 482.6 L840 483.2 L854.1 483.5 L840 484.3 L820 485.3 L801.9 486.8 L795 488.5" fill="none" stroke="#000" stroke-width="2.6" stroke-linejoin="round"/>
<line x1="726" y1="214" x2="726" y2="284" stroke="#000" stroke-width="3.2"/>
<path d="M726 206.6 L732.3 218.1 L726 214.9 L719.7 218.1 Z" fill="#000"/>
<path d="M726 291.4 L732.3 279.9 L726 283.1 L719.7 279.9 Z" fill="#000"/>
<rect x="725.0" y="2.3" width="180.0" height="486.2" fill="none" stroke="#000" stroke-width="2.3"/>
<line x1="333.4" y1="598.0" x2="333.4" y2="1088.8" stroke="#000" stroke-width="2.4"/>
<line x1="460.6" y1="598.0" x2="460.6" y2="1088.8" stroke="#000" stroke-width="2.4"/>
<g fill="none" stroke-width="2.7" stroke-linejoin="round">
<path d="M114.0 619.2 116.5 619.0 119.0 618.9 121.5 618.9 124.0 619.0 126.5 619.1 129.0 619.3 131.5 619.6 134.0 619.9 136.5 620.3 139.0 620.7 141.5 621.3 144.1 621.9 146.6 622.5 149.1 623.2 151.6 624.0 154.1 624.8 156.6 625.6 159.1 626.6 161.6 627.5 164.1 628.5 166.6 629.6 169.1 630.7 171.6 631.9 174.1 633.1 176.6 634.3 179.1 635.6 181.6 637.0 184.1 638.3 186.6 639.7 189.1 641.2 191.6 642.6 194.1 644.1 196.6 645.7 199.1 647.2 201.6 648.8 204.2 650.4 206.7 652.1 209.2 653.7 211.7 655.4 214.2 657.1 216.7 658.8 219.2 660.6 221.7 662.3 224.2 664.0 226.7 665.7 229.2 667.4 231.7 669.1 234.2 670.7 236.7 672.4 239.2 674.0 241.7 675.5 244.2 677.0 246.7 678.5 249.2 680.0 251.7 681.3 254.2 682.7 256.7 683.9 259.2 685.1 261.7 686.3 264.2 687.3 266.8 688.4 269.3 689.3 271.8 690.3 274.3 691.1 276.8 691.9 279.3 692.7 281.8 693.4 284.3 694.1 286.8 694.8 289.3 695.4 291.8 696.0 294.3 696.5 296.8 697.0 299.3 697.5 301.8 697.9 304.3 698.3 306.8 698.7 309.3 699.1 311.8 699.4 314.3 699.7 316.8 700.0 319.3 700.3 321.8 700.6 324.4 700.8 326.9 701.1 329.4 701.3 331.9 701.5 334.4 701.7 336.9 701.8 339.4 702.0 341.9 702.2 344.4 702.3 346.9 702.4 349.4 702.6 351.9 702.7 354.4 702.8 356.9 702.9 359.4 703.0 361.9 703.2 364.4 703.3 366.9 703.4 369.4 703.5 371.9 703.6 374.4 703.8 376.9 703.9 379.4 704.0 381.9 704.2 384.5 704.3 387.0 704.5 389.5 704.7 392.0 704.9 394.5 705.1 397.0 705.3 399.5 705.5 402.0 705.8 404.5 706.1 407.0 706.3 409.5 706.6 412.0 707.0 414.5 707.3 417.0 707.6 419.5 708.0 422.0 708.3 424.5 708.7 427.0 709.0 429.5 709.3 432.0 709.7 434.5 710.0 437.0 710.3 439.5 710.6 442.0 710.9 444.6 711.2 447.1 711.4 449.6 711.6 452.1 711.8 454.6 712.0 457.1 712.1 459.6 712.2 462.1 712.3 464.6 712.3 467.1 712.3 469.6 712.3 472.1 712.2 474.6 712.1 477.1 712.0 479.6 711.8 482.1 711.6 484.6 711.3 487.1 711.0 489.6 710.7 492.1 710.3 494.6 710.0 497.1 709.5 499.6 709.1 502.1 708.6 504.7 708.0 507.2 707.4 509.7 706.8 512.2 706.2 514.7 705.5 517.2 704.8 519.7 704.1 522.2 703.3 524.7 702.5 527.2 701.6 529.7 700.7 532.2 699.8 534.7 698.9 537.2 697.9 539.7 696.9 542.2 695.8 544.7 694.7 547.2 693.6 549.7 692.4 552.2 691.2 554.7 690.0 557.2 688.8 559.7 687.5 562.2 686.2 564.8 684.8 567.3 683.5 569.8 682.1 572.3 680.7 574.8 679.3 577.3 677.8 579.8 676.4 582.3 674.9 584.8 673.4 587.3 671.9 589.8 670.4 592.3 668.9 594.8 667.3 597.3 665.8 599.8 664.3 602.3 662.7 604.8 661.2 607.3 659.7 609.8 658.1 612.3 656.6 614.8 655.1 617.3 653.5 619.8 652.0 622.3 650.5 624.9 649.0 627.4 647.6 629.9 646.1 632.4 644.7 634.9 643.3 637.4 641.9 639.9 640.5 642.4 639.1 644.9 637.8 647.4 636.5 649.9 635.3 652.4 634.0 654.9 632.9 657.4 631.7 659.9 630.6 662.4 629.5 664.9 628.5 667.4 627.5 669.9 626.5 672.4 625.6 674.9 624.8 677.4 624.0 679.9 623.2 682.4 622.6 685.0 621.9 687.5 621.3 690.0 620.8 692.5 620.4 695.0 620.0 697.5 619.7 700.0 619.4 702.5 619.2 705.0 619.1 707.5 619.1 710.0 619.1 712.5 619.2 715.0 619.4" stroke="#8a8c00"/>
<path d="M114.0 686.1 116.5 685.9 119.0 685.6 121.5 685.4 124.0 685.2 126.5 685.0 129.0 684.8 131.5 684.5 134.0 684.3 136.5 684.1 139.0 683.9 141.5 683.7 144.1 683.5 146.6 683.3 149.1 683.1 151.6 682.9 154.1 682.7 156.6 682.5 159.1 682.3 161.6 682.2 164.1 682.0 166.6 681.8 169.1 681.6 171.6 681.5 174.1 681.3 176.6 681.1 179.1 681.0 181.6 680.8 184.1 680.6 186.6 680.5 189.1 680.4 191.6 680.2 194.1 680.1 196.6 679.9 199.1 679.8 201.6 679.7 204.2 679.6 206.7 679.4 209.2 679.3 211.7 679.2 214.2 679.1 216.7 679.0 219.2 678.9 221.7 678.8 224.2 678.8 226.7 678.7 229.2 678.6 231.7 678.5 234.2 678.5 236.7 678.4 239.2 678.4 241.7 678.3 244.2 678.3 246.7 678.2 249.2 678.2 251.7 678.2 254.2 678.1 256.7 678.1 259.2 678.1 261.7 678.1 264.2 678.1 266.8 678.1 269.3 678.1 271.8 678.2 274.3 678.2 276.8 678.2 279.3 678.3 281.8 678.3 284.3 678.4 286.8 678.4 289.3 678.5 291.8 678.6 294.3 678.6 296.8 678.7 299.3 678.8 301.8 678.9 304.3 679.0 306.8 679.2 309.3 679.3 311.8 679.4 314.3 679.5 316.8 679.7 319.3 679.8 321.8 680.0 324.4 680.2 326.9 680.3 329.4 680.5 331.9 680.7 334.4 680.9 336.9 681.1 339.4 681.3 341.9 681.5 344.4 681.7 346.9 681.9 349.4 682.1 351.9 682.3 354.4 682.5 356.9 682.8 359.4 683.0 361.9 683.3 364.4 683.5 366.9 683.8 369.4 684.0 371.9 684.3 374.4 684.5 376.9 684.8 379.4 685.1 381.9 685.3 384.5 685.6 387.0 685.9 389.5 686.2 392.0 686.5 394.5 686.8 397.0 687.1 399.5 687.4 402.0 687.7 404.5 688.0 407.0 688.3 409.5 688.6 412.0 688.9 414.5 689.2 417.0 689.5 419.5 689.7 422.0 690.0 424.5 690.3 427.0 690.6 429.5 690.9 432.0 691.1 434.5 691.4 437.0 691.6 439.5 691.8 442.0 692.0 444.6 692.2 447.1 692.4 449.6 692.5 452.1 692.7 454.6 692.8 457.1 692.9 459.6 692.9 462.1 693.0 464.6 693.0 467.1 693.0 469.6 693.0 472.1 692.9 474.6 692.8 477.1 692.8 479.6 692.6 482.1 692.5 484.6 692.4 487.1 692.2 489.6 692.0 492.1 691.8 494.6 691.6 497.1 691.4 499.6 691.2 502.1 690.9 504.7 690.6 507.2 690.4 509.7 690.1 512.2 689.8 514.7 689.5 517.2 689.2 519.7 688.9 522.2 688.6 524.7 688.2 527.2 687.9 529.7 687.6 532.2 687.2 534.7 686.9 537.2 686.6 539.7 686.2 542.2 685.9 544.7 685.5 547.2 685.2 549.7 684.9 552.2 684.6 554.7 684.2 557.2 683.9 559.7 683.6 562.2 683.3 564.8 683.0 567.3 682.7 569.8 682.4 572.3 682.1 574.8 681.9 577.3 681.6 579.8 681.4 582.3 681.2 584.8 681.0 587.3 680.8 589.8 680.6 592.3 680.4 594.8 680.3 597.3 680.2 599.8 680.1 602.3 680.0 604.8 679.9 607.3 679.8 609.8 679.8 612.3 679.8 614.8 679.8 617.3 679.9 619.8 679.9 622.3 680.0 624.9 680.1 627.4 680.2 629.9 680.3 632.4 680.5 634.9 680.6 637.4 680.8 639.9 681.0 642.4 681.1 644.9 681.3 647.4 681.5 649.9 681.7 652.4 682.0 654.9 682.2 657.4 682.4 659.9 682.6 662.4 682.8 664.9 683.1 667.4 683.3 669.9 683.5 672.4 683.7 674.9 683.9 677.4 684.2 679.9 684.4 682.4 684.6 685.0 684.7 687.5 684.9 690.0 685.1 692.5 685.3 695.0 685.4 697.5 685.5 700.0 685.7 702.5 685.8 705.0 685.8 707.5 685.9 710.0 686.0 712.5 686.0 715.0 686.0" stroke="#7f4448"/>
<path d="M114.0 704.9 116.5 704.9 119.0 704.9 121.5 704.9 124.0 704.9 126.5 704.9 129.0 704.9 131.5 705.0 134.0 705.0 136.5 705.1 139.0 705.2 141.5 705.2 144.1 705.3 146.6 705.5 149.1 705.6 151.6 705.7 154.1 705.9 156.6 706.0 159.1 706.2 161.6 706.3 164.1 706.5 166.6 706.7 169.1 706.9 171.6 707.1 174.1 707.3 176.6 707.6 179.1 707.8 181.6 708.1 184.1 708.3 186.6 708.6 189.1 708.8 191.6 709.1 194.1 709.4 196.6 709.7 199.1 710.0 201.6 710.3 204.2 710.6 206.7 710.9 209.2 711.3 211.7 711.6 214.2 711.9 216.7 712.3 219.2 712.6 221.7 713.0 224.2 713.3 226.7 713.7 229.2 714.1 231.7 714.4 234.2 714.8 236.7 715.1 239.2 715.5 241.7 715.8 244.2 716.2 246.7 716.5 249.2 716.9 251.7 717.2 254.2 717.6 256.7 717.9 259.2 718.2 261.7 718.5 264.2 718.8 266.8 719.1 269.3 719.4 271.8 719.7 274.3 719.9 276.8 720.2 279.3 720.4 281.8 720.6 284.3 720.8 286.8 721.0 289.3 721.2 291.8 721.4 294.3 721.5 296.8 721.6 299.3 721.8 301.8 721.9 304.3 721.9 306.8 722.0 309.3 722.0 311.8 722.0 314.3 722.0 316.8 722.0 319.3 721.9 321.8 721.9 324.4 721.8 326.9 721.6 329.4 721.5 331.9 721.4 334.4 721.2 336.9 721.0 339.4 720.8 341.9 720.5 344.4 720.3 346.9 720.0 349.4 719.7 351.9 719.3 354.4 719.0 356.9 718.6 359.4 718.2 361.9 717.8 364.4 717.4 366.9 717.0 369.4 716.6 371.9 716.1 374.4 715.7 376.9 715.2 379.4 714.7 381.9 714.3 384.5 713.8 387.0 713.3 389.5 712.9 392.0 712.4 394.5 711.9 397.0 711.5 399.5 711.0 402.0 710.6 404.5 710.1 407.0 709.7 409.5 709.3 412.0 708.9 414.5 708.5 417.0 708.1 419.5 707.7 422.0 707.4 424.5 707.1 427.0 706.7 429.5 706.5 432.0 706.2 434.5 705.9 437.0 705.7 439.5 705.5 442.0 705.3 444.6 705.2 447.1 705.0 449.6 704.9 452.1 704.9 454.6 704.8 457.1 704.8 459.6 704.9 462.1 704.9 464.6 705.0 467.1 705.1 469.6 705.2 472.1 705.3 474.6 705.5 477.1 705.6 479.6 705.8 482.1 706.0 484.6 706.2 487.1 706.4 489.6 706.7 492.1 706.9 494.6 707.1 497.1 707.4 499.6 707.6 502.1 707.9 504.7 708.1 507.2 708.4 509.7 708.6 512.2 708.8 514.7 709.1 517.2 709.3 519.7 709.5 522.2 709.7 524.7 709.9 527.2 710.1 529.7 710.2 532.2 710.4 534.7 710.5 537.2 710.6 539.7 710.7 542.2 710.8 544.7 710.9 547.2 710.9 549.7 711.0 552.2 711.0 554.7 711.1 557.2 711.1 559.7 711.1 562.2 711.1 564.8 711.0 567.3 711.0 569.8 711.0 572.3 710.9 574.8 710.9 577.3 710.8 579.8 710.7 582.3 710.6 584.8 710.5 587.3 710.4 589.8 710.3 592.3 710.2 594.8 710.0 597.3 709.9 599.8 709.8 602.3 709.6 604.8 709.5 607.3 709.3 609.8 709.1 612.3 708.9 614.8 708.8 617.3 708.6 619.8 708.4 622.3 708.2 624.9 708.0 627.4 707.8 629.9 707.6 632.4 707.4 634.9 707.2 637.4 706.9 639.9 706.7 642.4 706.5 644.9 706.3 647.4 706.1 649.9 705.9 652.4 705.7 654.9 705.5 657.4 705.2 659.9 705.0 662.4 704.8 664.9 704.6 667.4 704.4 669.9 704.2 672.4 704.1 674.9 703.9 677.4 703.7 679.9 703.5 682.4 703.3 685.0 703.2 687.5 703.0 690.0 702.9 692.5 702.7 695.0 702.6 697.5 702.5 700.0 702.4 702.5 702.3 705.0 702.2 707.5 702.1 710.0 702.0 712.5 702.0 715.0 701.9" stroke="#e9ae26"/>
<path d="M114.0 702.0 116.5 701.9 119.0 702.0 121.5 702.1 124.0 702.2 126.5 702.5 129.0 702.8 131.5 703.1 134.0 703.5 136.5 704.0 139.0 704.5 141.5 705.1 144.1 705.7 146.6 706.3 149.1 707.0 151.6 707.8 154.1 708.5 156.6 709.3 159.1 710.1 161.6 711.0 164.1 711.9 166.6 712.8 169.1 713.7 171.6 714.6 174.1 715.5 176.6 716.5 179.1 717.4 181.6 718.4 184.1 719.3 186.6 720.3 189.1 721.2 191.6 722.2 194.1 723.1 196.6 724.0 199.1 724.9 201.6 725.8 204.2 726.6 206.7 727.4 209.2 728.2 211.7 729.0 214.2 729.7 216.7 730.4 219.2 731.1 221.7 731.8 224.2 732.4 226.7 732.9 229.2 733.5 231.7 734.0 234.2 734.5 236.7 734.9 239.2 735.3 241.7 735.7 244.2 736.1 246.7 736.4 249.2 736.6 251.7 736.9 254.2 737.0 256.7 737.2 259.2 737.3 261.7 737.4 264.2 737.5 266.8 737.5 269.3 737.5 271.8 737.5 274.3 737.4 276.8 737.4 279.3 737.3 281.8 737.2 284.3 737.1 286.8 737.0 289.3 736.9 291.8 736.8 294.3 736.7 296.8 736.6 299.3 736.5 301.8 736.4 304.3 736.4 306.8 736.3 309.3 736.3 311.8 736.3 314.3 736.3 316.8 736.3 319.3 736.3 321.8 736.3 324.4 736.4 326.9 736.5 329.4 736.5 331.9 736.6 334.4 736.8 336.9 736.9 339.4 737.0 341.9 737.2 344.4 737.4 346.9 737.6 349.4 737.8 351.9 738.0 354.4 738.2 356.9 738.5 359.4 738.8 361.9 739.0 364.4 739.4 366.9 739.7 369.4 740.0 371.9 740.4 374.4 740.7 376.9 741.1 379.4 741.5 381.9 741.9 384.5 742.4 387.0 742.8 389.5 743.3 392.0 743.8 394.5 744.3 397.0 744.8 399.5 745.3 402.0 745.9 404.5 746.4 407.0 747.0 409.5 747.5 412.0 748.1 414.5 748.7 417.0 749.2 419.5 749.7 422.0 750.3 424.5 750.8 427.0 751.2 429.5 751.7 432.0 752.1 434.5 752.5 437.0 752.9 439.5 753.2 442.0 753.5 444.6 753.7 447.1 753.9 449.6 754.1 452.1 754.2 454.6 754.2 457.1 754.2 459.6 754.2 462.1 754.2 464.6 754.1 467.1 754.0 469.6 753.8 472.1 753.7 474.6 753.5 477.1 753.2 479.6 753.0 482.1 752.7 484.6 752.4 487.1 752.1 489.6 751.8 492.1 751.4 494.6 751.1 497.1 750.7 499.6 750.3 502.1 749.9 504.7 749.5 507.2 749.1 509.7 748.7 512.2 748.3 514.7 747.9 517.2 747.5 519.7 747.1 522.2 746.7 524.7 746.3 527.2 746.0 529.7 745.6 532.2 745.2 534.7 744.9 537.2 744.5 539.7 744.2 542.2 743.8 544.7 743.5 547.2 743.1 549.7 742.8 552.2 742.4 554.7 742.1 557.2 741.7 559.7 741.3 562.2 741.0 564.8 740.6 567.3 740.2 569.8 739.8 572.3 739.4 574.8 738.9 577.3 738.5 579.8 738.0 582.3 737.5 584.8 737.0 587.3 736.5 589.8 735.9 592.3 735.3 594.8 734.7 597.3 734.1 599.8 733.5 602.3 732.8 604.8 732.1 607.3 731.3 609.8 730.5 612.3 729.7 614.8 728.9 617.3 728.0 619.8 727.1 622.3 726.2 624.9 725.3 627.4 724.3 629.9 723.3 632.4 722.4 634.9 721.4 637.4 720.4 639.9 719.4 642.4 718.4 644.9 717.5 647.4 716.5 649.9 715.5 652.4 714.6 654.9 713.7 657.4 712.8 659.9 711.9 662.4 711.0 664.9 710.2 667.4 709.4 669.9 708.6 672.4 707.9 674.9 707.2 677.4 706.6 679.9 706.0 682.4 705.5 685.0 705.0 687.5 704.6 690.0 704.2 692.5 703.9 695.0 703.6 697.5 703.5 700.0 703.4 702.5 703.3 705.0 703.4 707.5 703.5 710.0 703.7 712.5 704.0 715.0 704.4" stroke="#04c6c8"/>
<path d="M114.0 804.4 116.5 804.6 119.0 804.6 121.5 804.6 124.0 804.5 126.5 804.3 129.0 804.0 131.5 803.6 134.0 803.2 136.5 802.7 139.0 802.2 141.5 801.5 144.1 800.8 146.6 800.1 149.1 799.3 151.6 798.4 154.1 797.5 156.6 796.6 159.1 795.6 161.6 794.5 164.1 793.4 166.6 792.3 169.1 791.2 171.6 790.0 174.1 788.8 176.6 787.6 179.1 786.4 181.6 785.2 184.1 783.9 186.6 782.6 189.1 781.4 191.6 780.1 194.1 778.8 196.6 777.5 199.1 776.3 201.6 775.0 204.2 773.8 206.7 772.6 209.2 771.4 211.7 770.2 214.2 769.0 216.7 767.9 219.2 766.8 221.7 765.7 224.2 764.7 226.7 763.7 229.2 762.7 231.7 761.8 234.2 761.0 236.7 760.2 239.2 759.4 241.7 758.7 244.2 758.1 246.7 757.4 249.2 756.9 251.7 756.3 254.2 755.8 256.7 755.3 259.2 754.9 261.7 754.5 264.2 754.2 266.8 753.9 269.3 753.6 271.8 753.3 274.3 753.1 276.8 752.9 279.3 752.8 281.8 752.7 284.3 752.6 286.8 752.5 289.3 752.4 291.8 752.4 294.3 752.4 296.8 752.5 299.3 752.5 301.8 752.6 304.3 752.7 306.8 752.8 309.3 752.9 311.8 753.0 314.3 753.2 316.8 753.4 319.3 753.5 321.8 753.7 324.4 754.0 326.9 754.2 329.4 754.4 331.9 754.6 334.4 754.9 336.9 755.1 339.4 755.4 341.9 755.7 344.4 755.9 346.9 756.2 349.4 756.4 351.9 756.7 354.4 757.0 356.9 757.2 359.4 757.5 361.9 757.7 364.4 757.9 366.9 758.1 369.4 758.3 371.9 758.5 374.4 758.7 376.9 758.8 379.4 759.0 381.9 759.1 384.5 759.2 387.0 759.2 389.5 759.3 392.0 759.3 394.5 759.3 397.0 759.2 399.5 759.2 402.0 759.1 404.5 758.9 407.0 758.8 409.5 758.6 412.0 758.3 414.5 758.1 417.0 757.8 419.5 757.6 422.0 757.3 424.5 757.0 427.0 756.7 429.5 756.4 432.0 756.2 434.5 755.9 437.0 755.7 439.5 755.4 442.0 755.2 444.6 755.0 447.1 754.9 449.6 754.8 452.1 754.6 454.6 754.6 457.1 754.5 459.6 754.5 462.1 754.5 464.6 754.6 467.1 754.6 469.6 754.7 472.1 754.8 474.6 754.9 477.1 755.1 479.6 755.2 482.1 755.3 484.6 755.4 487.1 755.5 489.6 755.6 492.1 755.7 494.6 755.8 497.1 755.8 499.6 755.8 502.1 755.8 504.7 755.7 507.2 755.7 509.7 755.6 512.2 755.6 514.7 755.5 517.2 755.4 519.7 755.3 522.2 755.2 524.7 755.1 527.2 755.1 529.7 755.0 532.2 755.0 534.7 755.0 537.2 754.9 539.7 755.0 542.2 755.0 544.7 755.0 547.2 755.1 549.7 755.2 552.2 755.3 554.7 755.5 557.2 755.6 559.7 755.8 562.2 756.1 564.8 756.4 567.3 756.7 569.8 757.0 572.3 757.4 574.8 757.8 577.3 758.3 579.8 758.8 582.3 759.4 584.8 760.0 587.3 760.7 589.8 761.4 592.3 762.2 594.8 763.0 597.3 763.8 599.8 764.7 602.3 765.7 604.8 766.6 607.3 767.7 609.8 768.7 612.3 769.8 614.8 770.9 617.3 772.0 619.8 773.1 622.3 774.3 624.9 775.5 627.4 776.7 629.9 777.9 632.4 779.1 634.9 780.3 637.4 781.5 639.9 782.7 642.4 784.0 644.9 785.2 647.4 786.3 649.9 787.5 652.4 788.7 654.9 789.8 657.4 791.0 659.9 792.1 662.4 793.2 664.9 794.2 667.4 795.2 669.9 796.2 672.4 797.2 674.9 798.1 677.4 798.9 679.9 799.8 682.4 800.5 685.0 801.3 687.5 801.9 690.0 802.6 692.5 803.1 695.0 803.6 697.5 804.0 700.0 804.4 702.5 804.7 705.0 804.9 707.5 805.0 710.0 805.1 712.5 805.1 715.0 805.0" stroke="#33aa6a"/>
<path d="M114.0 804.9 116.5 804.9 119.0 804.9 121.5 804.8 124.0 804.8 126.5 804.7 129.0 804.6 131.5 804.5 134.0 804.3 136.5 804.2 139.0 804.0 141.5 803.8 144.1 803.6 146.6 803.3 149.1 803.1 151.6 802.9 154.1 802.6 156.6 802.3 159.1 802.0 161.6 801.7 164.1 801.4 166.6 801.1 169.1 800.7 171.6 800.4 174.1 800.0 176.6 799.7 179.1 799.3 181.6 798.9 184.1 798.5 186.6 798.1 189.1 797.7 191.6 797.3 194.1 796.9 196.6 796.5 199.1 796.1 201.6 795.7 204.2 795.3 206.7 794.8 209.2 794.4 211.7 794.0 214.2 793.6 216.7 793.1 219.2 792.7 221.7 792.3 224.2 791.9 226.7 791.5 229.2 791.1 231.7 790.7 234.2 790.3 236.7 789.9 239.2 789.5 241.7 789.1 244.2 788.7 246.7 788.4 249.2 788.0 251.7 787.7 254.2 787.3 256.7 787.0 259.2 786.7 261.7 786.4 264.2 786.2 266.8 785.9 269.3 785.7 271.8 785.5 274.3 785.3 276.8 785.2 279.3 785.0 281.8 784.9 284.3 784.8 286.8 784.7 289.3 784.7 291.8 784.6 294.3 784.6 296.8 784.6 299.3 784.6 301.8 784.5 304.3 784.5 306.8 784.5 309.3 784.5 311.8 784.5 314.3 784.4 316.8 784.4 319.3 784.3 321.8 784.2 324.4 784.1 326.9 784.0 329.4 783.9 331.9 783.7 334.4 783.5 336.9 783.3 339.4 783.0 341.9 782.7 344.4 782.4 346.9 782.0 349.4 781.7 351.9 781.2 354.4 780.8 356.9 780.3 359.4 779.8 361.9 779.2 364.4 778.6 366.9 778.0 369.4 777.4 371.9 776.7 374.4 776.0 376.9 775.2 379.4 774.5 381.9 773.7 384.5 772.9 387.0 772.1 389.5 771.4 392.0 770.6 394.5 769.8 397.0 769.1 399.5 768.4 402.0 767.8 404.5 767.1 407.0 766.6 409.5 766.0 412.0 765.6 414.5 765.2 417.0 764.9 419.5 764.6 422.0 764.4 424.5 764.2 427.0 764.1 429.5 764.0 432.0 764.0 434.5 763.9 437.0 763.9 439.5 763.9 442.0 764.0 444.6 764.0 447.1 764.1 449.6 764.1 452.1 764.2 454.6 764.3 457.1 764.4 459.6 764.5 462.1 764.5 464.6 764.6 467.1 764.7 469.6 764.8 472.1 764.8 474.6 764.9 477.1 765.0 479.6 765.1 482.1 765.1 484.6 765.2 487.1 765.3 489.6 765.5 492.1 765.6 494.6 765.7 497.1 765.9 499.6 766.0 502.1 766.2 504.7 766.4 507.2 766.6 509.7 766.9 512.2 767.2 514.7 767.5 517.2 767.8 519.7 768.1 522.2 768.5 524.7 768.9 527.2 769.3 529.7 769.8 532.2 770.3 534.7 770.8 537.2 771.4 539.7 772.0 542.2 772.6 544.7 773.3 547.2 773.9 549.7 774.7 552.2 775.4 554.7 776.1 557.2 776.9 559.7 777.7 562.2 778.5 564.8 779.3 567.3 780.1 569.8 780.9 572.3 781.7 574.8 782.5 577.3 783.3 579.8 784.1 582.3 784.9 584.8 785.7 587.3 786.5 589.8 787.3 592.3 788.0 594.8 788.8 597.3 789.5 599.8 790.2 602.3 790.8 604.8 791.5 607.3 792.1 609.8 792.8 612.3 793.4 614.8 793.9 617.3 794.5 619.8 795.1 622.3 795.6 624.9 796.1 627.4 796.6 629.9 797.1 632.4 797.5 634.9 798.0 637.4 798.4 639.9 798.8 642.4 799.2 644.9 799.6 647.4 799.9 649.9 800.3 652.4 800.6 654.9 801.0 657.4 801.3 659.9 801.6 662.4 801.8 664.9 802.1 667.4 802.3 669.9 802.6 672.4 802.8 674.9 803.0 677.4 803.2 679.9 803.4 682.4 803.6 685.0 803.8 687.5 803.9 690.0 804.1 692.5 804.2 695.0 804.3 697.5 804.5 700.0 804.6 702.5 804.7 705.0 804.7 707.5 804.8 710.0 804.9 712.5 804.9 715.0 805.0" stroke="#ab66dd"/>
<path d="M114.0 1088.5 116.5 1083.1 119.0 1077.8 121.5 1072.5 124.0 1067.4 126.5 1062.3 129.0 1057.4 131.5 1052.5 134.0 1047.7 136.5 1043.0 139.0 1038.3 141.5 1033.8 144.1 1029.2 146.6 1024.8 149.1 1020.4 151.6 1016.1 154.1 1011.8 156.6 1007.6 159.1 1003.4 161.6 999.3 164.1 995.2 166.6 991.2 169.1 987.2 171.6 983.2 174.1 979.3 176.6 975.5 179.1 971.6 181.6 967.8 184.1 964.1 186.6 960.4 189.1 956.7 191.6 953.0 194.1 949.4 196.6 945.8 199.1 942.3 201.6 938.8 204.2 935.3 206.7 932.0 209.2 928.6 211.7 925.4 214.2 922.2 216.7 919.1 219.2 916.0 221.7 913.1 224.2 910.2 226.7 907.4 229.2 904.7 231.7 902.0 234.2 899.5 236.7 897.0 239.2 894.5 241.7 892.2 244.2 889.9 246.7 887.7 249.2 885.6 251.7 883.6 254.2 881.6 256.7 879.7 259.2 877.8 261.7 876.1 264.2 874.4 266.8 872.8 269.3 871.3 271.8 869.8 274.3 868.4 276.8 867.1 279.3 865.8 281.8 864.6 284.3 863.5 286.8 862.5 289.3 861.5 291.8 860.6 294.3 859.7 296.8 859.0 299.3 858.3 301.8 857.6 304.3 857.1 306.8 856.6 309.3 856.1 311.8 855.8 314.3 855.5 316.8 855.2 319.3 855.1 321.8 855.0 324.4 854.9 326.9 854.9 329.4 855.0 331.9 855.2 334.4 855.4 336.9 855.7 339.4 856.0 341.9 856.4 344.4 856.8 346.9 857.3 349.4 857.8 351.9 858.3 354.4 858.8 356.9 859.4 359.4 859.9 361.9 860.5 364.4 861.0 366.9 861.6 369.4 862.1 371.9 862.6 374.4 863.0 376.9 863.5 379.4 863.9 381.9 864.2 384.5 864.5 387.0 864.7 389.5 864.9 392.0 865.0 394.5 865.1 397.0 865.1 399.5 865.0 402.0 864.8 404.5 864.6 407.0 864.3 409.5 864.0 412.0 863.6 414.5 863.2 417.0 862.7 419.5 862.2 422.0 861.7 424.5 861.1 427.0 860.5 429.5 859.9 432.0 859.3 434.5 858.8 437.0 858.2 439.5 857.7 442.0 857.1 444.6 856.7 447.1 856.2 449.6 855.9 452.1 855.5 454.6 855.3 457.1 855.1 459.6 855.1 462.1 855.1 464.6 855.2 467.1 855.4 469.6 855.6 472.1 856.0 474.6 856.4 477.1 856.9 479.6 857.5 482.1 858.1 484.6 858.8 487.1 859.5 489.6 860.3 492.1 861.1 494.6 862.0 497.1 862.9 499.6 863.8 502.1 864.7 504.7 865.7 507.2 866.7 509.7 867.7 512.2 868.7 514.7 869.7 517.2 870.8 519.7 871.8 522.2 872.8 524.7 873.8 527.2 874.9 529.7 875.8 532.2 876.8 534.7 877.8 537.2 878.7 539.7 879.6 542.2 880.5 544.7 881.3 547.2 882.1 549.7 882.9 552.2 883.7 554.7 884.5 557.2 885.4 559.7 886.3 562.2 887.2 564.8 888.1 567.3 889.2 569.8 890.3 572.3 891.5 574.8 892.8 577.3 894.2 579.8 895.7 582.3 897.4 584.8 899.1 587.3 900.9 589.8 902.8 592.3 904.8 594.8 906.9 597.3 909.0 599.8 911.3 602.3 913.6 604.8 916.1 607.3 918.6 609.8 921.2 612.3 923.8 614.8 926.6 617.3 929.4 619.8 932.3 622.3 935.3 624.9 938.3 627.4 941.4 629.9 944.5 632.4 947.8 634.9 951.0 637.4 954.4 639.9 957.8 642.4 961.2 644.9 964.8 647.4 968.3 649.9 971.9 652.4 975.6 654.9 979.3 657.4 983.0 659.9 986.8 662.4 990.7 664.9 994.6 667.4 998.6 669.9 1002.6 672.4 1006.7 674.9 1010.8 677.4 1015.1 679.9 1019.4 682.4 1023.7 685.0 1028.2 687.5 1032.7 690.0 1037.3 692.5 1042.0 695.0 1046.8 697.5 1051.6 700.0 1056.6 702.5 1061.7 705.0 1066.8 707.5 1072.1 710.0 1077.4 712.5 1082.9 715.0 1088.5" stroke="#1867e2"/>
<path d="M114.0 1088.5 116.5 1085.4 119.0 1082.3 121.5 1079.3 124.0 1076.2 126.5 1073.2 129.0 1070.2 131.5 1067.2 134.0 1064.2 136.5 1061.3 139.0 1058.4 141.5 1055.5 144.1 1052.6 146.6 1049.7 149.1 1046.9 151.6 1044.1 154.1 1041.3 156.6 1038.5 159.1 1035.8 161.6 1033.1 164.1 1030.4 166.6 1027.8 169.1 1025.1 171.6 1022.5 174.1 1020.0 176.6 1017.4 179.1 1014.9 181.6 1012.4 184.1 1010.0 186.6 1007.5 189.1 1005.1 191.6 1002.8 194.1 1000.4 196.6 998.1 199.1 995.9 201.6 993.6 204.2 991.4 206.7 989.2 209.2 987.1 211.7 985.0 214.2 982.9 216.7 980.9 219.2 978.9 221.7 977.0 224.2 975.0 226.7 973.1 229.2 971.3 231.7 969.5 234.2 967.7 236.7 966.0 239.2 964.3 241.7 962.6 244.2 961.0 246.7 959.5 249.2 957.9 251.7 956.4 254.2 955.0 256.7 953.6 259.2 952.2 261.7 950.9 264.2 949.7 266.8 948.4 269.3 947.3 271.8 946.1 274.3 945.1 276.8 944.0 279.3 943.0 281.8 942.1 284.3 941.2 286.8 940.4 289.3 939.6 291.8 938.9 294.3 938.2 296.8 937.5 299.3 937.0 301.8 936.4 304.3 936.0 306.8 935.6 309.3 935.2 311.8 934.9 314.3 934.5 316.8 934.3 319.3 934.0 321.8 933.8 324.4 933.5 326.9 933.3 329.4 933.1 331.9 932.8 334.4 932.5 336.9 932.3 339.4 931.9 341.9 931.6 344.4 931.2 346.9 930.7 349.4 930.2 351.9 929.7 354.4 929.1 356.9 928.4 359.4 927.6 361.9 926.7 364.4 925.8 366.9 924.7 369.4 923.6 371.9 922.4 374.4 921.1 376.9 919.8 379.4 918.5 381.9 917.2 384.5 915.8 387.0 914.5 389.5 913.3 392.0 912.1 394.5 910.9 397.0 909.8 399.5 908.8 402.0 907.9 404.5 907.1 407.0 906.4 409.5 905.7 412.0 905.1 414.5 904.7 417.0 904.3 419.5 904.0 422.0 903.7 424.5 903.5 427.0 903.4 429.5 903.3 432.0 903.3 434.5 903.3 437.0 903.3 439.5 903.4 442.0 903.5 444.6 903.6 447.1 903.7 449.6 903.8 452.1 903.9 454.6 904.0 457.1 904.0 459.6 904.1 462.1 904.1 464.6 904.1 467.1 904.0 469.6 904.0 472.1 903.9 474.6 903.8 477.1 903.7 479.6 903.5 482.1 903.4 484.6 903.3 487.1 903.2 489.6 903.1 492.1 903.0 494.6 903.0 497.1 902.9 499.6 902.9 502.1 902.9 504.7 903.0 507.2 903.1 509.7 903.3 512.2 903.4 514.7 903.7 517.2 904.0 519.7 904.4 522.2 904.8 524.7 905.3 527.2 905.9 529.7 906.5 532.2 907.2 534.7 908.1 537.2 909.0 539.7 910.0 542.2 911.1 544.7 912.3 547.2 913.6 549.7 915.0 552.2 916.5 554.7 918.0 557.2 919.7 559.7 921.4 562.2 923.3 564.8 925.2 567.3 927.2 569.8 929.2 572.3 931.4 574.8 933.6 577.3 935.8 579.8 938.1 582.3 940.5 584.8 943.0 587.3 945.4 589.8 948.0 592.3 950.6 594.8 953.2 597.3 955.9 599.8 958.6 602.3 961.3 604.8 964.1 607.3 966.9 609.8 969.8 612.3 972.6 614.8 975.5 617.3 978.4 619.8 981.4 622.3 984.3 624.9 987.2 627.4 990.2 629.9 993.1 632.4 996.1 634.9 999.1 637.4 1002.0 639.9 1005.0 642.4 1007.9 644.9 1010.9 647.4 1013.8 649.9 1016.7 652.4 1019.7 654.9 1022.6 657.4 1025.5 659.9 1028.4 662.4 1031.2 664.9 1034.1 667.4 1037.0 669.9 1039.8 672.4 1042.7 674.9 1045.5 677.4 1048.3 679.9 1051.1 682.4 1053.9 685.0 1056.7 687.5 1059.4 690.0 1062.1 692.5 1064.9 695.0 1067.6 697.5 1070.3 700.0 1072.9 702.5 1075.6 705.0 1078.2 707.5 1080.8 710.0 1083.4 712.5 1086.0 715.0 1088.5" stroke="#ff0000"/>
<path d="M114.0 1088.5 116.5 1088.4 119.0 1088.2 121.5 1087.9 124.0 1087.5 126.5 1087.0 129.0 1086.3 131.5 1085.6 134.0 1084.7 136.5 1083.7 139.0 1082.6 141.5 1081.4 144.1 1080.1 146.6 1078.7 149.1 1077.2 151.6 1075.6 154.1 1073.9 156.6 1072.1 159.1 1070.2 161.6 1068.2 164.1 1066.2 166.6 1064.0 169.1 1061.8 171.6 1059.4 174.1 1057.0 176.6 1054.5 179.1 1052.0 181.6 1049.3 184.1 1046.7 186.6 1043.9 189.1 1041.2 191.6 1038.4 194.1 1035.5 196.6 1032.7 199.1 1029.8 201.6 1027.0 204.2 1024.1 206.7 1021.3 209.2 1018.4 211.7 1015.6 214.2 1012.8 216.7 1009.9 219.2 1007.1 221.7 1004.3 224.2 1001.4 226.7 998.6 229.2 995.8 231.7 993.0 234.2 990.2 236.7 987.4 239.2 984.6 241.7 981.8 244.2 979.0 246.7 976.2 249.2 973.4 251.7 970.7 254.2 967.9 256.7 965.1 259.2 962.3 261.7 959.6 264.2 956.9 266.8 954.2 269.3 951.6 271.8 949.0 274.3 946.5 276.8 944.0 279.3 941.7 281.8 939.4 284.3 937.3 286.8 935.3 289.3 933.4 291.8 931.6 294.3 929.9 296.8 928.5 299.3 927.1 301.8 925.9 304.3 924.8 306.8 923.8 309.3 922.9 311.8 922.1 314.3 921.5 316.8 920.9 319.3 920.4 321.8 919.9 324.4 919.6 326.9 919.3 329.4 919.0 331.9 918.8 334.4 918.7 336.9 918.6 339.4 918.5 341.9 918.4 344.4 918.3 346.9 918.3 349.4 918.3 351.9 918.2 354.4 918.1 356.9 918.1 359.4 918.0 361.9 917.9 364.4 917.7 366.9 917.6 369.4 917.4 371.9 917.2 374.4 917.0 376.9 916.8 379.4 916.5 381.9 916.3 384.5 916.0 387.0 915.8 389.5 915.5 392.0 915.3 394.5 915.0 397.0 914.7 399.5 914.4 402.0 914.1 404.5 913.9 407.0 913.6 409.5 913.3 412.0 913.1 414.5 912.8 417.0 912.5 419.5 912.3 422.0 912.1 424.5 911.9 427.0 911.7 429.5 911.5 432.0 911.3 434.5 911.1 437.0 911.0 439.5 910.9 442.0 910.8 444.6 910.7 447.1 910.7 449.6 910.7 452.1 910.7 454.6 910.7 457.1 910.8 459.6 910.9 462.1 911.0 464.6 911.2 467.1 911.4 469.6 911.6 472.1 911.9 474.6 912.2 477.1 912.6 479.6 913.0 482.1 913.4 484.6 913.9 487.1 914.5 489.6 915.0 492.1 915.7 494.6 916.3 497.1 917.1 499.6 917.8 502.1 918.7 504.7 919.5 507.2 920.5 509.7 921.5 512.2 922.5 514.7 923.6 517.2 924.8 519.7 926.0 522.2 927.2 524.7 928.6 527.2 930.0 529.7 931.4 532.2 932.9 534.7 934.5 537.2 936.1 539.7 937.8 542.2 939.6 544.7 941.5 547.2 943.4 549.7 945.3 552.2 947.4 554.7 949.5 557.2 951.7 559.7 954.0 562.2 956.3 564.8 958.7 567.3 961.2 569.8 963.7 572.3 966.2 574.8 968.9 577.3 971.5 579.8 974.2 582.3 977.0 584.8 979.8 587.3 982.6 589.8 985.4 592.3 988.3 594.8 991.2 597.3 994.1 599.8 997.0 602.3 1000.0 604.8 1002.9 607.3 1005.8 609.8 1008.7 612.3 1011.7 614.8 1014.6 617.3 1017.5 619.8 1020.4 622.3 1023.2 624.9 1026.0 627.4 1028.8 629.9 1031.6 632.4 1034.3 634.9 1037.0 637.4 1039.7 639.9 1042.3 642.4 1044.8 644.9 1047.3 647.4 1049.8 649.9 1052.2 652.4 1054.5 654.9 1056.8 657.4 1059.0 659.9 1061.1 662.4 1063.2 664.9 1065.2 667.4 1067.2 669.9 1069.1 672.4 1070.9 674.9 1072.6 677.4 1074.2 679.9 1075.8 682.4 1077.3 685.0 1078.7 687.5 1080.1 690.0 1081.3 692.5 1082.4 695.0 1083.5 697.5 1084.5 700.0 1085.3 702.5 1086.1 705.0 1086.8 707.5 1087.4 710.0 1087.9 712.5 1088.2 715.0 1088.5" stroke="#000000"/>
</g>
<line x1="113.7" y1="1039.72" x2="117.4" y2="1039.72" stroke="#000" stroke-width="2.2"/>
<line x1="113.7" y1="990.64" x2="120.2" y2="990.64" stroke="#000" stroke-width="2.2"/>
<line x1="113.7" y1="941.56" x2="117.4" y2="941.56" stroke="#000" stroke-width="2.2"/>
<line x1="113.7" y1="892.48" x2="120.2" y2="892.48" stroke="#000" stroke-width="2.2"/>
<line x1="113.7" y1="843.4" x2="117.4" y2="843.4" stroke="#000" stroke-width="2.2"/>
<line x1="113.7" y1="794.32" x2="120.2" y2="794.32" stroke="#000" stroke-width="2.2"/>
<line x1="113.7" y1="745.24" x2="117.4" y2="745.24" stroke="#000" stroke-width="2.2"/>
<line x1="113.7" y1="696.16" x2="120.2" y2="696.16" stroke="#000" stroke-width="2.2"/>
<line x1="113.7" y1="647.08" x2="117.4" y2="647.08" stroke="#000" stroke-width="2.2"/>
<rect x="113.7" y="598.0" width="601.9" height="490.79999999999995" fill="none" stroke="#000" stroke-width="2.3"/>
<path d="M730.3 619.3 L732.7 620.1 L731.9 622.2 L732.3 644.5 L733.1 665.1 L734.8 673.3 L739.7 677.4 L748 679.1 L775 679.5 L795.6 679.7 L894.9 680.3 L795.6 681.2 L761.6 685.4 L754 689.2 L752.1 692.6 L739.9 693.9 L738.9 695.2 L748.4 698.6 L772.9 700.9 L752.1 702.4 L751.2 705.2 L765.4 707.1 L801.3 709 L765.4 708.4 L764.4 710 L816.4 711.8 L782.4 712.8 L765.4 715.6 L757.8 719.4 L754 721.3 L734.2 722.2 L735.1 727 L740.8 734.5 L748.4 736.8 L791.8 737.9 L767.3 739.3 L748.4 744.9 L738.9 749.7 L737 753.1 L776.7 753.4 L824.9 754.8 L776.7 756.3 L757.8 759.1 L738 761 L737 763.8 L823 764.4 L746.5 766.7 L744.6 770.5 L748.4 778 L757.8 782.7 L773.9 783.7 L757.8 785.6 L748.4 791.3 L742.3 799.1 L741 804.1 L731.4 804.6 L730 806 L729 806 L729 619.3 Z" fill="url(#gpu)"/>
<path d="M730 856 L742.3 856 L745.1 859.3 L747.8 864.7 L757.4 866.1 L745.1 868.8 L736.9 875.7 L732.8 889.3 L732 901.7 L731.4 903 L768.3 903.6 L739.6 905.8 L738.2 908.5 L750.5 911.2 L747.8 915.3 L760.1 918.9 L749.2 922.2 L747.8 930.4 L750.5 934.5 L745.1 938.6 L739.6 946.8 L735.5 960.4 L732.8 985 L730.9 1026 L730 1080.7 L730 1088.9 L729 1088.9 L729 856 Z" fill="url(#gpl)"/>
<path d="M730.3 619.3 L732.7 620.1 L731.9 622.2 L732.3 644.5 L733.1 665.1 L734.8 673.3 L739.7 677.4 L748 679.1 L775 679.5 L795.6 679.7 L894.9 680.3 L795.6 681.2 L761.6 685.4 L754 689.2 L752.1 692.6 L739.9 693.9 L738.9 695.2 L748.4 698.6 L772.9 700.9 L752.1 702.4 L751.2 705.2 L765.4 707.1 L801.3 709 L765.4 708.4 L764.4 710 L816.4 711.8 L782.4 712.8 L765.4 715.6 L757.8 719.4 L754 721.3 L734.2 722.2 L735.1 727 L740.8 734.5 L748.4 736.8 L791.8 737.9 L767.3 739.3 L748.4 744.9 L738.9 749.7 L737 753.1 L776.7 753.4 L824.9 754.8 L776.7 756.3 L757.8 759.1 L738 761 L737 763.8 L823 764.4 L746.5 766.7 L744.6 770.5 L748.4 778 L757.8 782.7 L773.9 783.7 L757.8 785.6 L748.4 791.3 L742.3 799.1 L741 804.1 L731.4 804.6 L730 806" fill="none" stroke="#000" stroke-width="2.5" stroke-linejoin="round"/>
<path d="M730 856 L742.3 856 L745.1 859.3 L747.8 864.7 L757.4 866.1 L745.1 868.8 L736.9 875.7 L732.8 889.3 L732 901.7 L731.4 903 L768.3 903.6 L739.6 905.8 L738.2 908.5 L750.5 911.2 L747.8 915.3 L760.1 918.9 L749.2 922.2 L747.8 930.4 L750.5 934.5 L745.1 938.6 L739.6 946.8 L735.5 960.4 L732.8 985 L730.9 1026 L730 1080.7 L730 1088.9" fill="none" stroke="#000" stroke-width="2.5" stroke-linejoin="round"/>
<line x1="728.6" y1="598.0" x2="728.6" y2="1088.8" stroke="#000" stroke-width="2.4"/>
<line x1="724.5" y1="1039.72" x2="728.6" y2="1039.72" stroke="#000" stroke-width="2.2"/>
<line x1="721.9" y1="990.64" x2="728.6" y2="990.64" stroke="#000" stroke-width="2.2"/>
<line x1="724.5" y1="941.56" x2="728.6" y2="941.56" stroke="#000" stroke-width="2.2"/>
<line x1="721.9" y1="892.48" x2="728.6" y2="892.48" stroke="#000" stroke-width="2.2"/>
<line x1="724.5" y1="843.4" x2="728.6" y2="843.4" stroke="#000" stroke-width="2.2"/>
<line x1="721.9" y1="794.32" x2="728.6" y2="794.32" stroke="#000" stroke-width="2.2"/>
<line x1="724.5" y1="745.24" x2="728.6" y2="745.24" stroke="#000" stroke-width="2.2"/>
<line x1="721.9" y1="696.16" x2="728.6" y2="696.16" stroke="#000" stroke-width="2.2"/>
<line x1="724.5" y1="647.08" x2="728.6" y2="647.08" stroke="#000" stroke-width="2.2"/>
<path d="M722.2 598.0 H910.0 V1088.8 H722.2" fill="none" stroke="#000" stroke-width="2.3"/>
<text x="28.35" y="30.6" font-size="32" fill="#000" textLength="40.7" lengthAdjust="spacingAndGlyphs">(a)</text>
<text x="94.61" y="64.3" font-size="30" fill="#000" textLength="14.84" lengthAdjust="spacingAndGlyphs">4</text>
<text x="92.71" y="161" font-size="30" fill="#000" textLength="18.75" lengthAdjust="spacingAndGlyphs">2</text>
<text x="92.97" y="259.4" font-size="30" fill="#000" textLength="17.86" lengthAdjust="spacingAndGlyphs">0</text>
<text x="67.84" y="357" font-size="30" fill="#000" textLength="43.78" lengthAdjust="spacingAndGlyphs">−2</text>
<text x="67.93" y="454.2" font-size="30" fill="#000" textLength="42.03" lengthAdjust="spacingAndGlyphs">−4</text>
<text transform="translate(53.6 293) rotate(-90)" x="0.37" y="0" font-size="30.5" font-style="italic" fill="#000" textLength="22.62" lengthAdjust="spacingAndGlyphs">E</text>
<text transform="translate(53.6 255.8) rotate(-90)" x="-1.51" y="0" font-size="30.5" fill="#000" textLength="61.53" lengthAdjust="spacingAndGlyphs">(eV)</text>
<text x="108.84" y="517" font-size="31.5" font-style="italic" fill="#000" textLength="19.58" lengthAdjust="spacingAndGlyphs">Γ</text>
<text x="213.5" y="517" font-size="31.5" font-style="italic" fill="#000" textLength="22.44" lengthAdjust="spacingAndGlyphs">Σ</text>
<text x="321.65" y="517" font-size="31.5" font-style="italic" fill="#000" textLength="29.2" lengthAdjust="spacingAndGlyphs">M</text>
<text x="386.82" y="517" font-size="31.5" font-style="italic" fill="#000" textLength="22.04" lengthAdjust="spacingAndGlyphs">T</text>
<text x="451.27" y="517" font-size="31.5" font-style="italic" fill="#000" textLength="24.46" lengthAdjust="spacingAndGlyphs">K</text>
<text x="573.44" y="517" font-size="31.5" font-style="italic" fill="#000" textLength="16.88" lengthAdjust="spacingAndGlyphs">Λ</text>
<text x="698.93" y="517" font-size="31.5" font-style="italic" fill="#000" textLength="18.65" lengthAdjust="spacingAndGlyphs">Γ</text>
<text x="794.06" y="519.2" font-size="29.8" fill="#000" textLength="69.44" lengthAdjust="spacingAndGlyphs">DOS</text>
<text x="721.97" y="547.8" font-size="30" fill="#000" textLength="228.76" lengthAdjust="spacingAndGlyphs">(states/eV/f.u.)</text>
<g class="tn">
<text transform="translate(185.2 284.5) rotate(-90)" x="-0.48" y="0" font-size="23.5" fill="#b16cf4" textLength="75.24" lengthAdjust="spacingAndGlyphs">4.66 eV</text>
<text transform="translate(312.7 283.5) rotate(-90)" x="-1.06" y="0" font-size="23.5" fill="#00a8ea" textLength="74.82" lengthAdjust="spacingAndGlyphs">3.50 eV</text>
<text transform="translate(410.3 285.9) rotate(-90)" x="-1.08" y="0" font-size="23.5" fill="#ff0000" textLength="75.74" lengthAdjust="spacingAndGlyphs">2.33 eV</text>
<text x="426.43" y="256.3" font-size="25.3" font-style="italic" fill="#000" textLength="18.99" lengthAdjust="spacingAndGlyphs">Δ</text>
<text x="445.06" y="256.6" font-size="15.5" fill="#000" textLength="8.28" lengthAdjust="spacingAndGlyphs">g</text>
<text x="466.35" y="334" font-size="26" font-style="italic" fill="#000" textLength="19.29" lengthAdjust="spacingAndGlyphs">Δ</text>
<text x="484.58" y="337.9" font-size="19.2" fill="#000" textLength="33.58" lengthAdjust="spacingAndGlyphs">SOC</text>
<text x="741.7" y="260.7" font-size="27.6" font-style="italic" fill="#000" textLength="20.11" lengthAdjust="spacingAndGlyphs">Δ</text>
<text x="760.52" y="260" font-size="14" fill="#000" textLength="8.62" lengthAdjust="spacingAndGlyphs">g</text>
<text x="772.08" y="260.7" font-size="24" fill="#000" textLength="88.4" lengthAdjust="spacingAndGlyphs">~1.79 eV</text>
</g>
<text x="19.72" y="573.6" font-size="32" fill="#000" textLength="43.62" lengthAdjust="spacingAndGlyphs">(b)</text>
<text x="113.73" y="582.8" font-size="29.5" font-style="italic" fill="#000" textLength="24.17" lengthAdjust="spacingAndGlyphs">D</text>
<text x="137" y="586.5" font-size="19">3<tspan font-style="italic">h</tspan></text>
<text x="215.03" y="582.8" font-size="29.5" font-style="italic" fill="#000" textLength="21.52" lengthAdjust="spacingAndGlyphs">C</text>
<text x="236.3" y="586.5" font-size="19">2<tspan font-style="italic">v</tspan></text>
<text x="316.46" y="582.8" font-size="29.5" font-style="italic" fill="#000" textLength="19.9" lengthAdjust="spacingAndGlyphs">C</text>
<text x="337.3" y="586.5" font-size="19">2<tspan font-style="italic">v</tspan></text>
<text x="388.16" y="582.8" font-size="29.5" font-style="italic" fill="#000" textLength="19.9" lengthAdjust="spacingAndGlyphs">C</text>
<text x="408.9" y="586.5" font-size="19"><tspan font-style="italic">s</tspan></text>
<text x="450.56" y="582.8" font-size="29.5" font-style="italic" fill="#000" textLength="19.9" lengthAdjust="spacingAndGlyphs">C</text>
<text x="471.3" y="586.5" font-size="19">3<tspan font-style="italic">h</tspan></text>
<text x="573.38" y="582.8" font-size="29.5" font-style="italic" fill="#000" textLength="22.06" lengthAdjust="spacingAndGlyphs">C</text>
<text x="593.1" y="586.5" font-size="19"><tspan font-style="italic">s</tspan></text>
<text x="686.64" y="582.8" font-size="29.5" font-style="italic" fill="#000" textLength="24.27" lengthAdjust="spacingAndGlyphs">D</text>
<text x="710" y="586.5" font-size="19">3<tspan font-style="italic">h</tspan></text>
<text x="53.45" y="609.3" font-size="30" fill="#000" textLength="51.32" lengthAdjust="spacingAndGlyphs">500</text>
<text x="55.54" y="708.4" font-size="30" fill="#000" textLength="49.17" lengthAdjust="spacingAndGlyphs">400</text>
<text x="54.7" y="805.7" font-size="30" fill="#000" textLength="50.04" lengthAdjust="spacingAndGlyphs">300</text>
<text x="54.7" y="903" font-size="30" fill="#000" textLength="50.04" lengthAdjust="spacingAndGlyphs">200</text>
<text x="53.28" y="1000.2" font-size="30" fill="#000" textLength="51.49" lengthAdjust="spacingAndGlyphs">100</text>
<text x="86.75" y="1098.2" font-size="30" fill="#000" textLength="18.1" lengthAdjust="spacingAndGlyphs">0</text>
<text x="104.93" y="1114.8" font-size="31.5" font-style="italic" fill="#000" textLength="18.84" lengthAdjust="spacingAndGlyphs">Γ</text>
<text x="209.2" y="1114.8" font-size="31.5" font-style="italic" fill="#000" textLength="23.26" lengthAdjust="spacingAndGlyphs">Σ</text>
<text x="317.95" y="1114.8" font-size="31.5" font-style="italic" fill="#000" textLength="29.2" lengthAdjust="spacingAndGlyphs">M</text>
<text x="383.02" y="1114.8" font-size="31.5" font-style="italic" fill="#000" textLength="22.04" lengthAdjust="spacingAndGlyphs">T</text>
<text x="447.47" y="1114.8" font-size="31.5" font-style="italic" fill="#000" textLength="24.46" lengthAdjust="spacingAndGlyphs">K</text>
<text x="573.49" y="1114.8" font-size="31.5" font-style="italic" fill="#000" textLength="18.03" lengthAdjust="spacingAndGlyphs">Λ</text>
<text x="698.15" y="1114.8" font-size="31.5" font-style="italic" fill="#000" textLength="19.68" lengthAdjust="spacingAndGlyphs">Γ</text>
<text x="756.37" y="1114.5" font-size="30" fill="#000" textLength="105.46" lengthAdjust="spacingAndGlyphs">phDOS</text>
<text x="120.29" y="617.7" font-size="23.5" fill="#8a8c00"><tspan font-style="italic">A</tspan>″<tspan font-size="16.5" dy="5">2</tspan></text>
<text x="125.49" y="681.8" font-size="23.5" fill="#7f4448"><tspan font-style="italic">A</tspan>′<tspan font-size="16.5" dy="5">1</tspan></text>
<text x="125.23" y="724" font-size="23.5" fill="#e9ae26"><tspan font-style="italic">E</tspan>′</text>
<text x="123.94" y="800.2" font-size="23.5" fill="#33aa6a"><tspan font-style="italic">E</tspan>″</text>
<text x="303.69" y="666.7" font-size="23.5" fill="#7f4448"><tspan font-style="italic">A</tspan><tspan font-size="16.5" dy="5">1</tspan></text>
<text x="303.26" y="691.3" font-size="23.5" fill="#8a8c00"><tspan font-style="italic">B</tspan><tspan font-size="16.5" dy="5">2</tspan></text>
<text x="304.56" y="718.3" font-size="23.5" fill="#e9ae26"><tspan font-style="italic">B</tspan><tspan font-size="16.5" dy="5">1</tspan></text>
<text x="304.29" y="745" font-size="23.5" fill="#04c6c8"><tspan font-style="italic">A</tspan><tspan font-size="16.5" dy="5">1</tspan></text>
<text x="304.26" y="774" font-size="23.5" fill="#33aa6a"><tspan font-style="italic">B</tspan><tspan font-size="16.5" dy="5">2</tspan></text>
<text x="304.79" y="803" font-size="23.5" fill="#ab66dd"><tspan font-style="italic">A</tspan><tspan font-size="16.5" dy="5">2</tspan></text>
<text x="304.79" y="849.2" font-size="23.5" fill="#1867e2"><tspan font-style="italic">A</tspan><tspan font-size="16.5" dy="5">1</tspan></text>
<text x="304.26" y="913.2" font-size="23.5" fill="#000000"><tspan font-style="italic">B</tspan><tspan font-size="16.5" dy="5">2</tspan></text>
<text x="304.26" y="955.5" font-size="23.5" fill="#ff0000"><tspan font-style="italic">B</tspan><tspan font-size="16.5" dy="5">1</tspan></text>
<text x="423.74" y="687.8" font-size="23.5" fill="#7f4448"><tspan font-style="italic">E</tspan>′</text>
<text x="423.74" y="730.4" font-size="23.5" fill="#8a8c00"><tspan font-style="italic">E</tspan>″*</text>
<text x="426.04" y="753.2" font-size="23.5" fill="#04c6c8"><tspan font-style="italic">E</tspan>′*</text>
<text x="478.17" y="705" font-size="19.5" fill="#e9ae26"><tspan font-style="italic">A</tspan>′</text>
<text x="478.39" y="754.7" font-size="23.5" fill="#33aa6a"><tspan font-style="italic">A</tspan>″</text>
<text x="475.74" y="787" font-size="23.5" fill="#ab66dd"><tspan font-style="italic">E</tspan>″</text>
<text x="477.59" y="855.8" font-size="23.5" fill="#1867e2"><tspan font-style="italic">A</tspan>′</text>
<text x="475.74" y="903" font-size="23.5" fill="#ff0000"><tspan font-style="italic">E</tspan>′</text>
<text x="475.74" y="936.9" font-size="23.5" fill="#000000"><tspan font-style="italic">E</tspan>″*</text>
<text x="575.99" y="671.7" font-size="23.5" fill="#8a8c00"><tspan font-style="italic">A</tspan>″</text>
<text x="575.29" y="702.4" font-size="23.5" fill="#7f4448"><tspan font-style="italic">A</tspan>′</text>
<text x="578.39" y="730" font-size="23.5" fill="#e9ae26"><tspan font-style="italic">A</tspan>′</text>
<text x="576.79" y="757.8" font-size="23.5" fill="#04c6c8"><tspan font-style="italic">A</tspan>′</text>
<text x="575.99" y="783" font-size="23.5" fill="#33aa6a"><tspan font-style="italic">A</tspan>″</text>
<text x="581.59" y="809" font-size="23.5" fill="#ab66dd"><tspan font-style="italic">A</tspan>″</text>
<text x="576.79" y="893.6" font-size="23.5" fill="#1867e2"><tspan font-style="italic">A</tspan>′</text>
<text x="575.99" y="934.5" font-size="23.5" fill="#ff0000"><tspan font-style="italic">A</tspan>′</text>
<text x="574.69" y="1019.6" font-size="23.5" fill="#000000"><tspan font-style="italic">A</tspan>″</text>
<text x="120.62" y="1013.9" font-size="23.5" font-style="italic" fill="#1867e2" textLength="25.52" lengthAdjust="spacingAndGlyphs">LA</text>
<text x="175.12" y="992.8" font-size="23.5" font-style="italic" fill="#ff0000" textLength="24.93" lengthAdjust="spacingAndGlyphs">TA</text>
<text x="174.68" y="1074.8" font-size="23.5" font-style="italic" fill="#000000" textLength="25.35" lengthAdjust="spacingAndGlyphs">ZA</text>
<text x="693.39" y="614.7" font-size="20" fill="#8a8c00" textLength="10.23" lengthAdjust="spacingAndGlyphs">9</text>
<text x="693.93" y="677.9" font-size="20" fill="#7f4448" textLength="9.64" lengthAdjust="spacingAndGlyphs">8</text>
<text x="692.72" y="702.9" font-size="20" fill="#e9ae26" textLength="9.88" lengthAdjust="spacingAndGlyphs">7</text>
<text x="693.18" y="725.7" font-size="20" fill="#04c6c8" textLength="10.23" lengthAdjust="spacingAndGlyphs">6</text>
<text x="693.26" y="795.7" font-size="20" fill="#33aa6a" textLength="9.5" lengthAdjust="spacingAndGlyphs">5</text>
<text x="693.62" y="826.6" font-size="20" fill="#ab66dd" textLength="9.46" lengthAdjust="spacingAndGlyphs">4</text>
<text x="676.68" y="1009.5" font-size="20" fill="#1867e2" textLength="10.24" lengthAdjust="spacingAndGlyphs">3</text>
<text x="655.65" y="1047.4" font-size="20" fill="#ff0000" textLength="10.5" lengthAdjust="spacingAndGlyphs">2</text>
<text x="639.1" y="1069.2" font-size="20" fill="#000000" textLength="9.44" lengthAdjust="spacingAndGlyphs">1</text>
<text transform="translate(33.4 901.8) rotate(-90)" x="-1.01" y="0" font-size="30" font-style="italic" fill="#000" textLength="20.4" lengthAdjust="spacingAndGlyphs">ω</text>
<text transform="translate(33.4 868.4) rotate(-90)" x="-1.5" y="0" font-size="30" fill="#000" textLength="51.79" lengthAdjust="spacingAndGlyphs">(cm</text>
<text transform="translate(26.1 815) rotate(-90)" x="-1.34" y="0" font-size="21" fill="#000" textLength="28.52" lengthAdjust="spacingAndGlyphs">−1</text>
<text transform="translate(33.4 785.8) rotate(-90)" x="-0.98" y="0" font-size="30" fill="#000" textLength="10.89" lengthAdjust="spacingAndGlyphs">)</text>
<text x="685.38" y="1146" font-size="30" fill="#000" textLength="154.75" lengthAdjust="spacingAndGlyphs">(states/cm</text>
<text x="841.98" y="1137.4" font-size="21" fill="#000" textLength="16.01" lengthAdjust="spacingAndGlyphs">−</text>
<text x="858.36" y="1137.4" font-size="21" fill="#000" textLength="11.97" lengthAdjust="spacingAndGlyphs">1</text>
<text x="870" y="1146" font-size="30" fill="#000" textLength="78.88" lengthAdjust="spacingAndGlyphs">/f.u.)</text>
</svg></body></html>
